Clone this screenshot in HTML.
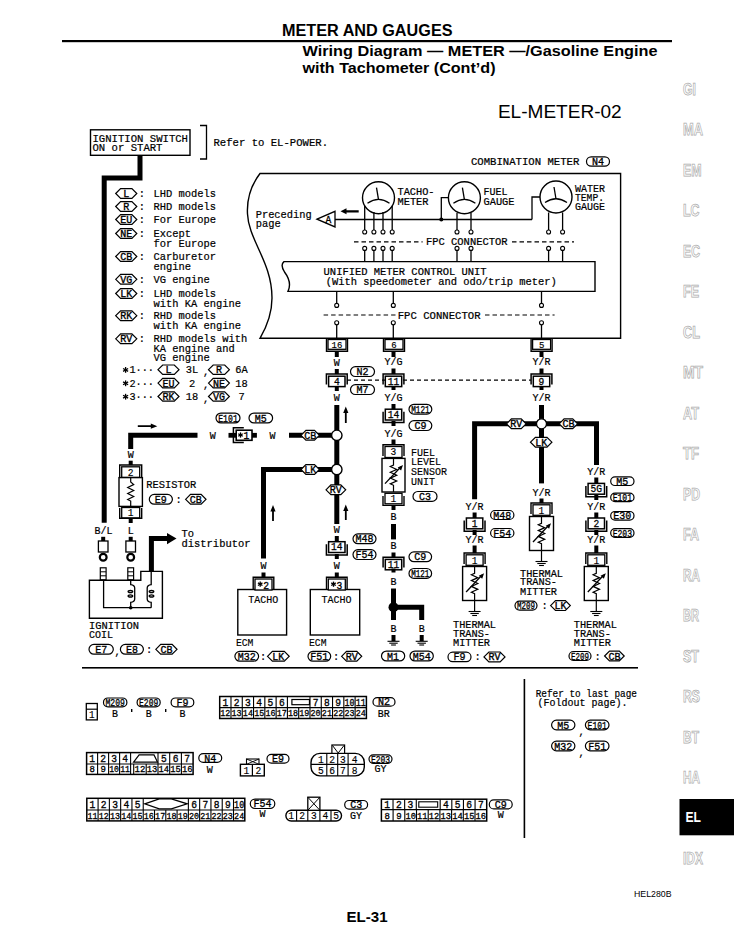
<!DOCTYPE html>
<html><head><meta charset="utf-8"><style>
html,body{margin:0;padding:0;background:#fff;width:734px;height:950px;overflow:hidden}
svg{position:absolute;left:0;top:0}
</style></head><body>
<svg width="734" height="950" viewBox="0 0 734 950">
<text x="282" y="36.3" font-size="15.6" font-family='"Liberation Sans", sans-serif' font-weight="bold" text-anchor="start" fill="#000" textLength="170.5" lengthAdjust="spacingAndGlyphs" >METER AND GAUGES</text>
<rect x="62" y="40" width="610" height="2.2" fill="#000"/>
<text x="302.5" y="56" font-size="15.2" font-family='"Liberation Sans", sans-serif' font-weight="bold" text-anchor="start" fill="#000" textLength="355" lengthAdjust="spacingAndGlyphs" >Wiring Diagram — METER —/Gasoline Engine</text>
<text x="302.5" y="72.8" font-size="15.2" font-family='"Liberation Sans", sans-serif' font-weight="bold" text-anchor="start" fill="#000" textLength="193" lengthAdjust="spacingAndGlyphs" >with Tachometer (Cont’d)</text>
<text x="683" y="94.8" font-size="15.8" font-family='"Liberation Sans", sans-serif' font-weight="bold" fill="none" stroke="#aaa" stroke-width="0.75" textLength="13" lengthAdjust="spacingAndGlyphs">GI</text>
<text x="683" y="135.3" font-size="15.8" font-family='"Liberation Sans", sans-serif' font-weight="bold" fill="none" stroke="#aaa" stroke-width="0.75" textLength="20" lengthAdjust="spacingAndGlyphs">MA</text>
<text x="683" y="175.8" font-size="15.8" font-family='"Liberation Sans", sans-serif' font-weight="bold" fill="none" stroke="#aaa" stroke-width="0.75" textLength="18.5" lengthAdjust="spacingAndGlyphs">EM</text>
<text x="683" y="216.3" font-size="15.8" font-family='"Liberation Sans", sans-serif' font-weight="bold" fill="none" stroke="#aaa" stroke-width="0.75" textLength="16.5" lengthAdjust="spacingAndGlyphs">LC</text>
<text x="683" y="256.8" font-size="15.8" font-family='"Liberation Sans", sans-serif' font-weight="bold" fill="none" stroke="#aaa" stroke-width="0.75" textLength="17" lengthAdjust="spacingAndGlyphs">EC</text>
<text x="683" y="297.3" font-size="15.8" font-family='"Liberation Sans", sans-serif' font-weight="bold" fill="none" stroke="#aaa" stroke-width="0.75" textLength="16" lengthAdjust="spacingAndGlyphs">FE</text>
<text x="683" y="337.8" font-size="15.8" font-family='"Liberation Sans", sans-serif' font-weight="bold" fill="none" stroke="#aaa" stroke-width="0.75" textLength="17" lengthAdjust="spacingAndGlyphs">CL</text>
<text x="683" y="378.3" font-size="15.8" font-family='"Liberation Sans", sans-serif' font-weight="bold" fill="none" stroke="#aaa" stroke-width="0.75" textLength="20" lengthAdjust="spacingAndGlyphs">MT</text>
<text x="683" y="418.8" font-size="15.8" font-family='"Liberation Sans", sans-serif' font-weight="bold" fill="none" stroke="#aaa" stroke-width="0.75" textLength="16" lengthAdjust="spacingAndGlyphs">AT</text>
<text x="683" y="459.3" font-size="15.8" font-family='"Liberation Sans", sans-serif' font-weight="bold" fill="none" stroke="#aaa" stroke-width="0.75" textLength="16" lengthAdjust="spacingAndGlyphs">TF</text>
<text x="683" y="499.8" font-size="15.8" font-family='"Liberation Sans", sans-serif' font-weight="bold" fill="none" stroke="#aaa" stroke-width="0.75" textLength="17" lengthAdjust="spacingAndGlyphs">PD</text>
<text x="683" y="540.3" font-size="15.8" font-family='"Liberation Sans", sans-serif' font-weight="bold" fill="none" stroke="#aaa" stroke-width="0.75" textLength="16" lengthAdjust="spacingAndGlyphs">FA</text>
<text x="683" y="580.8" font-size="15.8" font-family='"Liberation Sans", sans-serif' font-weight="bold" fill="none" stroke="#aaa" stroke-width="0.75" textLength="17" lengthAdjust="spacingAndGlyphs">RA</text>
<text x="683" y="621.3" font-size="15.8" font-family='"Liberation Sans", sans-serif' font-weight="bold" fill="none" stroke="#aaa" stroke-width="0.75" textLength="16" lengthAdjust="spacingAndGlyphs">BR</text>
<text x="683" y="661.8" font-size="15.8" font-family='"Liberation Sans", sans-serif' font-weight="bold" fill="none" stroke="#aaa" stroke-width="0.75" textLength="16" lengthAdjust="spacingAndGlyphs">ST</text>
<text x="683" y="702.3" font-size="15.8" font-family='"Liberation Sans", sans-serif' font-weight="bold" fill="none" stroke="#aaa" stroke-width="0.75" textLength="17" lengthAdjust="spacingAndGlyphs">RS</text>
<text x="683" y="742.8" font-size="15.8" font-family='"Liberation Sans", sans-serif' font-weight="bold" fill="none" stroke="#aaa" stroke-width="0.75" textLength="16" lengthAdjust="spacingAndGlyphs">BT</text>
<text x="683" y="783.3" font-size="15.8" font-family='"Liberation Sans", sans-serif' font-weight="bold" fill="none" stroke="#aaa" stroke-width="0.75" textLength="17" lengthAdjust="spacingAndGlyphs">HA</text>
<rect x="679.5" y="799" width="54.5" height="36.3" fill="#000"/>
<text x="685.5" y="822" font-size="13.8" font-family='"Liberation Sans", sans-serif' font-weight="bold" text-anchor="start" fill="#fff" textLength="15.5" lengthAdjust="spacingAndGlyphs" >EL</text>
<text x="683" y="864.3" font-size="15.8" font-family='"Liberation Sans", sans-serif' font-weight="bold" fill="none" stroke="#aaa" stroke-width="0.75" textLength="20" lengthAdjust="spacingAndGlyphs">IDX</text>
<text x="634" y="897.2" font-size="8.9" font-family='"Liberation Sans", sans-serif' font-weight="normal" text-anchor="start" fill="#000" textLength="37.5" lengthAdjust="spacingAndGlyphs" >HEL280B</text>
<text x="346.5" y="922.2" font-size="15.2" font-family='"Liberation Sans", sans-serif' font-weight="bold" text-anchor="start" fill="#000" textLength="41" lengthAdjust="spacingAndGlyphs" >EL-31</text>
<rect x="82" y="667" width="556" height="1.6" fill="#000"/>
<rect x="523.6" y="679" width="1.6" height="159" fill="#000"/>
<text x="497.9" y="117.9" font-size="18.3" font-family='"Liberation Sans", sans-serif' font-weight="normal" text-anchor="start" fill="#000" textLength="123.8" lengthAdjust="spacingAndGlyphs" >EL-METER-02</text>
<rect x="90.5" y="129.8" width="99.5" height="25.5" stroke="#000" stroke-width="1.4" fill="#fff"/>
<text transform="translate(92.5,141.5) scale(1,1.1)" x="0" y="0" font-size="10.4" font-family='"Liberation Mono", monospace' font-weight="normal" text-anchor="start" fill="#000" textLength="95.5" lengthAdjust="spacingAndGlyphs"  stroke="#000" stroke-width="0.2">IGNITION SWITCH</text>
<text transform="translate(92.5,150.8) scale(1,1.1)" x="0" y="0" font-size="10.4" font-family='"Liberation Mono", monospace' font-weight="normal" text-anchor="start" fill="#000" textLength="70" lengthAdjust="spacingAndGlyphs"  stroke="#000" stroke-width="0.2">ON or START</text>
<path d="M200,125.5 L206.5,125.5 L206.5,159 L200,159" stroke="#000" stroke-width="1.3" fill="none" />
<text transform="translate(213.5,146.2) scale(1,1.1)" x="0" y="0" font-size="10.4" font-family='"Liberation Mono", monospace' font-weight="normal" text-anchor="start" fill="#000" textLength="114.5" lengthAdjust="spacingAndGlyphs"  stroke="#000" stroke-width="0.2">Refer to EL-POWER.</text>
<path d="M140,155.3 L140,177.9 L104.2,177.9 L104.2,522.7" stroke="#000" stroke-width="5" fill="none" stroke-linejoin="miter" stroke-linecap="butt"/>
<path d="M115.7,193.5 L120.60000000000001,188.6 L131.9,188.6 L136.8,193.5 L131.9,198.4 L120.60000000000001,198.4 Z" stroke="#000" stroke-width="1.2" fill="#fff"/>
<text transform="translate(126.25,197.0) scale(1,1.1)" x="0" y="0" font-size="10" font-family='"Liberation Mono", monospace' font-weight="normal" text-anchor="middle" fill="#000"  stroke="#000" stroke-width="0.35">L</text>
<text transform="translate(138.8,197.0) scale(1,1.1)" x="0" y="0" font-size="10.4" font-family='"Liberation Mono", monospace' font-weight="normal" text-anchor="start" fill="#000"  stroke="#000" stroke-width="0.2">:</text>
<text transform="translate(153.4,197.0) scale(1,1.1)" x="0" y="0" font-size="10.4" font-family='"Liberation Mono", monospace' font-weight="normal" text-anchor="start" fill="#000" textLength="62.5" lengthAdjust="spacingAndGlyphs"  stroke="#000" stroke-width="0.2">LHD models</text>
<path d="M115.7,206.5 L120.60000000000001,201.6 L131.9,201.6 L136.8,206.5 L131.9,211.4 L120.60000000000001,211.4 Z" stroke="#000" stroke-width="1.2" fill="#fff"/>
<text transform="translate(126.25,210.0) scale(1,1.1)" x="0" y="0" font-size="10" font-family='"Liberation Mono", monospace' font-weight="normal" text-anchor="middle" fill="#000"  stroke="#000" stroke-width="0.35">R</text>
<text transform="translate(138.8,210.0) scale(1,1.1)" x="0" y="0" font-size="10.4" font-family='"Liberation Mono", monospace' font-weight="normal" text-anchor="start" fill="#000"  stroke="#000" stroke-width="0.2">:</text>
<text transform="translate(153.4,210.0) scale(1,1.1)" x="0" y="0" font-size="10.4" font-family='"Liberation Mono", monospace' font-weight="normal" text-anchor="start" fill="#000" textLength="62.5" lengthAdjust="spacingAndGlyphs"  stroke="#000" stroke-width="0.2">RHD models</text>
<path d="M115.7,219.5 L120.60000000000001,214.6 L131.9,214.6 L136.8,219.5 L131.9,224.4 L120.60000000000001,224.4 Z" stroke="#000" stroke-width="1.2" fill="#fff"/>
<text transform="translate(126.25,223.0) scale(1,1.1)" x="0" y="0" font-size="10" font-family='"Liberation Mono", monospace' font-weight="normal" text-anchor="middle" fill="#000"  stroke="#000" stroke-width="0.35">EU</text>
<text transform="translate(138.8,223.0) scale(1,1.1)" x="0" y="0" font-size="10.4" font-family='"Liberation Mono", monospace' font-weight="normal" text-anchor="start" fill="#000"  stroke="#000" stroke-width="0.2">:</text>
<text transform="translate(153.4,223.0) scale(1,1.1)" x="0" y="0" font-size="10.4" font-family='"Liberation Mono", monospace' font-weight="normal" text-anchor="start" fill="#000" textLength="62.5" lengthAdjust="spacingAndGlyphs"  stroke="#000" stroke-width="0.2">For Europe</text>
<path d="M115.7,233.5 L120.60000000000001,228.6 L131.9,228.6 L136.8,233.5 L131.9,238.4 L120.60000000000001,238.4 Z" stroke="#000" stroke-width="1.2" fill="#fff"/>
<text transform="translate(126.25,237.0) scale(1,1.1)" x="0" y="0" font-size="10" font-family='"Liberation Mono", monospace' font-weight="normal" text-anchor="middle" fill="#000"  stroke="#000" stroke-width="0.35">NE</text>
<text transform="translate(138.8,237.0) scale(1,1.1)" x="0" y="0" font-size="10.4" font-family='"Liberation Mono", monospace' font-weight="normal" text-anchor="start" fill="#000"  stroke="#000" stroke-width="0.2">:</text>
<text transform="translate(153.4,237.0) scale(1,1.1)" x="0" y="0" font-size="10.4" font-family='"Liberation Mono", monospace' font-weight="normal" text-anchor="start" fill="#000" textLength="37.5" lengthAdjust="spacingAndGlyphs"  stroke="#000" stroke-width="0.2">Except</text>
<text transform="translate(153.4,246.5) scale(1,1.1)" x="0" y="0" font-size="10.4" font-family='"Liberation Mono", monospace' font-weight="normal" text-anchor="start" fill="#000" textLength="62.5" lengthAdjust="spacingAndGlyphs"  stroke="#000" stroke-width="0.2">for Europe</text>
<path d="M115.7,256.5 L120.60000000000001,251.6 L131.9,251.6 L136.8,256.5 L131.9,261.4 L120.60000000000001,261.4 Z" stroke="#000" stroke-width="1.2" fill="#fff"/>
<text transform="translate(126.25,260.0) scale(1,1.1)" x="0" y="0" font-size="10" font-family='"Liberation Mono", monospace' font-weight="normal" text-anchor="middle" fill="#000"  stroke="#000" stroke-width="0.35">CB</text>
<text transform="translate(138.8,260.0) scale(1,1.1)" x="0" y="0" font-size="10.4" font-family='"Liberation Mono", monospace' font-weight="normal" text-anchor="start" fill="#000"  stroke="#000" stroke-width="0.2">:</text>
<text transform="translate(153.4,260.0) scale(1,1.1)" x="0" y="0" font-size="10.4" font-family='"Liberation Mono", monospace' font-weight="normal" text-anchor="start" fill="#000" textLength="62.5" lengthAdjust="spacingAndGlyphs"  stroke="#000" stroke-width="0.2">Carburetor</text>
<text transform="translate(153.4,269.5) scale(1,1.1)" x="0" y="0" font-size="10.4" font-family='"Liberation Mono", monospace' font-weight="normal" text-anchor="start" fill="#000" textLength="37.5" lengthAdjust="spacingAndGlyphs"  stroke="#000" stroke-width="0.2">engine</text>
<path d="M115.7,279.3 L120.60000000000001,274.40000000000003 L131.9,274.40000000000003 L136.8,279.3 L131.9,284.2 L120.60000000000001,284.2 Z" stroke="#000" stroke-width="1.2" fill="#fff"/>
<text transform="translate(126.25,282.8) scale(1,1.1)" x="0" y="0" font-size="10" font-family='"Liberation Mono", monospace' font-weight="normal" text-anchor="middle" fill="#000"  stroke="#000" stroke-width="0.35">VG</text>
<text transform="translate(138.8,282.8) scale(1,1.1)" x="0" y="0" font-size="10.4" font-family='"Liberation Mono", monospace' font-weight="normal" text-anchor="start" fill="#000"  stroke="#000" stroke-width="0.2">:</text>
<text transform="translate(153.4,282.8) scale(1,1.1)" x="0" y="0" font-size="10.4" font-family='"Liberation Mono", monospace' font-weight="normal" text-anchor="start" fill="#000" textLength="56.25" lengthAdjust="spacingAndGlyphs"  stroke="#000" stroke-width="0.2">VG engine</text>
<path d="M115.7,293.5 L120.60000000000001,288.6 L131.9,288.6 L136.8,293.5 L131.9,298.4 L120.60000000000001,298.4 Z" stroke="#000" stroke-width="1.2" fill="#fff"/>
<text transform="translate(126.25,297.0) scale(1,1.1)" x="0" y="0" font-size="10" font-family='"Liberation Mono", monospace' font-weight="normal" text-anchor="middle" fill="#000"  stroke="#000" stroke-width="0.35">LK</text>
<text transform="translate(138.8,297.0) scale(1,1.1)" x="0" y="0" font-size="10.4" font-family='"Liberation Mono", monospace' font-weight="normal" text-anchor="start" fill="#000"  stroke="#000" stroke-width="0.2">:</text>
<text transform="translate(153.4,297.0) scale(1,1.1)" x="0" y="0" font-size="10.4" font-family='"Liberation Mono", monospace' font-weight="normal" text-anchor="start" fill="#000" textLength="62.5" lengthAdjust="spacingAndGlyphs"  stroke="#000" stroke-width="0.2">LHD models</text>
<text transform="translate(153.4,306.5) scale(1,1.1)" x="0" y="0" font-size="10.4" font-family='"Liberation Mono", monospace' font-weight="normal" text-anchor="start" fill="#000" textLength="87.5" lengthAdjust="spacingAndGlyphs"  stroke="#000" stroke-width="0.2">with KA engine</text>
<path d="M115.7,315.7 L120.60000000000001,310.8 L131.9,310.8 L136.8,315.7 L131.9,320.59999999999997 L120.60000000000001,320.59999999999997 Z" stroke="#000" stroke-width="1.2" fill="#fff"/>
<text transform="translate(126.25,319.2) scale(1,1.1)" x="0" y="0" font-size="10" font-family='"Liberation Mono", monospace' font-weight="normal" text-anchor="middle" fill="#000"  stroke="#000" stroke-width="0.35">RK</text>
<text transform="translate(138.8,319.2) scale(1,1.1)" x="0" y="0" font-size="10.4" font-family='"Liberation Mono", monospace' font-weight="normal" text-anchor="start" fill="#000"  stroke="#000" stroke-width="0.2">:</text>
<text transform="translate(153.4,319.2) scale(1,1.1)" x="0" y="0" font-size="10.4" font-family='"Liberation Mono", monospace' font-weight="normal" text-anchor="start" fill="#000" textLength="62.5" lengthAdjust="spacingAndGlyphs"  stroke="#000" stroke-width="0.2">RHD models</text>
<text transform="translate(153.4,328.7) scale(1,1.1)" x="0" y="0" font-size="10.4" font-family='"Liberation Mono", monospace' font-weight="normal" text-anchor="start" fill="#000" textLength="87.5" lengthAdjust="spacingAndGlyphs"  stroke="#000" stroke-width="0.2">with KA engine</text>
<path d="M115.7,338.8 L120.60000000000001,333.90000000000003 L131.9,333.90000000000003 L136.8,338.8 L131.9,343.7 L120.60000000000001,343.7 Z" stroke="#000" stroke-width="1.2" fill="#fff"/>
<text transform="translate(126.25,342.3) scale(1,1.1)" x="0" y="0" font-size="10" font-family='"Liberation Mono", monospace' font-weight="normal" text-anchor="middle" fill="#000"  stroke="#000" stroke-width="0.35">RV</text>
<text transform="translate(138.8,342.3) scale(1,1.1)" x="0" y="0" font-size="10.4" font-family='"Liberation Mono", monospace' font-weight="normal" text-anchor="start" fill="#000"  stroke="#000" stroke-width="0.2">:</text>
<text transform="translate(153.4,342.3) scale(1,1.1)" x="0" y="0" font-size="10.4" font-family='"Liberation Mono", monospace' font-weight="normal" text-anchor="start" fill="#000" textLength="93.75" lengthAdjust="spacingAndGlyphs"  stroke="#000" stroke-width="0.2">RHD models with</text>
<text transform="translate(153.4,351.8) scale(1,1.1)" x="0" y="0" font-size="10.4" font-family='"Liberation Mono", monospace' font-weight="normal" text-anchor="start" fill="#000" textLength="81.25" lengthAdjust="spacingAndGlyphs"  stroke="#000" stroke-width="0.2">KA engine and</text>
<text transform="translate(153.4,361.3) scale(1,1.1)" x="0" y="0" font-size="10.4" font-family='"Liberation Mono", monospace' font-weight="normal" text-anchor="start" fill="#000" textLength="56.25" lengthAdjust="spacingAndGlyphs"  stroke="#000" stroke-width="0.2">VG engine</text>
<line x1="125.6" y1="367.0" x2="125.6" y2="372.8" stroke="#000" stroke-width="1.3" />
<line x1="123.09" y1="368.45" x2="128.11" y2="371.35" stroke="#000" stroke-width="1.3" />
<line x1="128.11" y1="368.45" x2="123.09" y2="371.35" stroke="#000" stroke-width="1.3" />
<text transform="translate(129.5,373.2) scale(1,1.1)" x="0" y="0" font-size="10.4" font-family='"Liberation Mono", monospace' font-weight="normal" text-anchor="start" fill="#000" textLength="24.5" lengthAdjust="spacingAndGlyphs"  stroke="#000" stroke-width="0.2">1···</text>
<path d="M158,369.7 L162.7,365.0 L174.3,365.0 L179,369.7 L174.3,374.4 L162.7,374.4 Z" stroke="#000" stroke-width="1.2" fill="#fff"/>
<text transform="translate(168.5,373.2) scale(1,1.1)" x="0" y="0" font-size="10" font-family='"Liberation Mono", monospace' font-weight="normal" text-anchor="middle" fill="#000"  stroke="#000" stroke-width="0.35">L</text>
<text transform="translate(192,373.2) scale(1,1.1)" x="0" y="0" font-size="10.4" font-family='"Liberation Mono", monospace' font-weight="normal" text-anchor="middle" fill="#000"  stroke="#000" stroke-width="0.2">3L</text>
<text transform="translate(203,374.7) scale(1,1.1)" x="0" y="0" font-size="10.4" font-family='"Liberation Mono", monospace' font-weight="normal" text-anchor="start" fill="#000"  stroke="#000" stroke-width="0.2">,</text>
<path d="M208.5,369.7 L213.2,365.0 L224.70000000000002,365.0 L229.4,369.7 L224.70000000000002,374.4 L213.2,374.4 Z" stroke="#000" stroke-width="1.2" fill="#fff"/>
<text transform="translate(218.95,373.2) scale(1,1.1)" x="0" y="0" font-size="10" font-family='"Liberation Mono", monospace' font-weight="normal" text-anchor="middle" fill="#000"  stroke="#000" stroke-width="0.35">R</text>
<text transform="translate(241.5,373.2) scale(1,1.1)" x="0" y="0" font-size="10.4" font-family='"Liberation Mono", monospace' font-weight="normal" text-anchor="middle" fill="#000"  stroke="#000" stroke-width="0.2">6A</text>
<line x1="125.6" y1="380.4" x2="125.6" y2="386.2" stroke="#000" stroke-width="1.3" />
<line x1="123.09" y1="381.85" x2="128.11" y2="384.75" stroke="#000" stroke-width="1.3" />
<line x1="128.11" y1="381.85" x2="123.09" y2="384.75" stroke="#000" stroke-width="1.3" />
<text transform="translate(129.5,386.6) scale(1,1.1)" x="0" y="0" font-size="10.4" font-family='"Liberation Mono", monospace' font-weight="normal" text-anchor="start" fill="#000" textLength="24.5" lengthAdjust="spacingAndGlyphs"  stroke="#000" stroke-width="0.2">2···</text>
<path d="M158,383.1 L162.7,378.40000000000003 L174.3,378.40000000000003 L179,383.1 L174.3,387.8 L162.7,387.8 Z" stroke="#000" stroke-width="1.2" fill="#fff"/>
<text transform="translate(168.5,386.6) scale(1,1.1)" x="0" y="0" font-size="10" font-family='"Liberation Mono", monospace' font-weight="normal" text-anchor="middle" fill="#000"  stroke="#000" stroke-width="0.35">EU</text>
<text transform="translate(192,386.6) scale(1,1.1)" x="0" y="0" font-size="10.4" font-family='"Liberation Mono", monospace' font-weight="normal" text-anchor="middle" fill="#000"  stroke="#000" stroke-width="0.2">2</text>
<text transform="translate(203,388.1) scale(1,1.1)" x="0" y="0" font-size="10.4" font-family='"Liberation Mono", monospace' font-weight="normal" text-anchor="start" fill="#000"  stroke="#000" stroke-width="0.2">,</text>
<path d="M208.5,383.1 L213.2,378.40000000000003 L224.70000000000002,378.40000000000003 L229.4,383.1 L224.70000000000002,387.8 L213.2,387.8 Z" stroke="#000" stroke-width="1.2" fill="#fff"/>
<text transform="translate(218.95,386.6) scale(1,1.1)" x="0" y="0" font-size="10" font-family='"Liberation Mono", monospace' font-weight="normal" text-anchor="middle" fill="#000"  stroke="#000" stroke-width="0.35">NE</text>
<text transform="translate(241.5,386.6) scale(1,1.1)" x="0" y="0" font-size="10.4" font-family='"Liberation Mono", monospace' font-weight="normal" text-anchor="middle" fill="#000"  stroke="#000" stroke-width="0.2">18</text>
<line x1="125.6" y1="393.8" x2="125.6" y2="399.6" stroke="#000" stroke-width="1.3" />
<line x1="123.09" y1="395.25" x2="128.11" y2="398.15" stroke="#000" stroke-width="1.3" />
<line x1="128.11" y1="395.25" x2="123.09" y2="398.15" stroke="#000" stroke-width="1.3" />
<text transform="translate(129.5,400.0) scale(1,1.1)" x="0" y="0" font-size="10.4" font-family='"Liberation Mono", monospace' font-weight="normal" text-anchor="start" fill="#000" textLength="24.5" lengthAdjust="spacingAndGlyphs"  stroke="#000" stroke-width="0.2">3···</text>
<path d="M158,396.5 L162.7,391.8 L174.3,391.8 L179,396.5 L174.3,401.2 L162.7,401.2 Z" stroke="#000" stroke-width="1.2" fill="#fff"/>
<text transform="translate(168.5,400.0) scale(1,1.1)" x="0" y="0" font-size="10" font-family='"Liberation Mono", monospace' font-weight="normal" text-anchor="middle" fill="#000"  stroke="#000" stroke-width="0.35">RK</text>
<text transform="translate(192,400.0) scale(1,1.1)" x="0" y="0" font-size="10.4" font-family='"Liberation Mono", monospace' font-weight="normal" text-anchor="middle" fill="#000"  stroke="#000" stroke-width="0.2">18</text>
<text transform="translate(203,401.5) scale(1,1.1)" x="0" y="0" font-size="10.4" font-family='"Liberation Mono", monospace' font-weight="normal" text-anchor="start" fill="#000"  stroke="#000" stroke-width="0.2">,</text>
<path d="M208.5,396.5 L213.2,391.8 L224.70000000000002,391.8 L229.4,396.5 L224.70000000000002,401.2 L213.2,401.2 Z" stroke="#000" stroke-width="1.2" fill="#fff"/>
<text transform="translate(218.95,400.0) scale(1,1.1)" x="0" y="0" font-size="10" font-family='"Liberation Mono", monospace' font-weight="normal" text-anchor="middle" fill="#000"  stroke="#000" stroke-width="0.35">VG</text>
<text transform="translate(241.5,400.0) scale(1,1.1)" x="0" y="0" font-size="10.4" font-family='"Liberation Mono", monospace' font-weight="normal" text-anchor="middle" fill="#000"  stroke="#000" stroke-width="0.2">7</text>
<text transform="translate(470.9,165) scale(1,1.1)" x="0" y="0" font-size="9.6" font-family='"Liberation Mono", monospace' font-weight="normal" text-anchor="start" fill="#000" textLength="108.5" lengthAdjust="spacingAndGlyphs"  stroke="#000" stroke-width="0.2">COMBINATION METER</text>
<rect x="586.5" y="156.8" width="23.0" height="9.4" rx="4.7" ry="4.7" stroke="#000" stroke-width="1.2" fill="#fff"/>
<text transform="translate(598.0,165.0) scale(1,1.1)" x="0" y="0" font-size="10" font-family='"Liberation Mono", monospace' font-weight="normal" text-anchor="middle" fill="#000"  stroke="#000" stroke-width="0.3">N4</text>
<path d="M620.6,173.5 L260,173.5 C252,184 246.5,196 247.5,214 C248.5,240 272,262 272,298 C272,314 266,328 260,338.3 L620.6,338.3 Z" stroke="#000" stroke-width="1.4" fill="none" />
<circle cx="378.5" cy="197.7" r="16" stroke="#000" stroke-width="1.4" fill="#fff"/>
<path d="M367.5,203.2 Q378.5,195.7 389.5,203.2" stroke="#000" stroke-width="1.3" fill="none" />
<line x1="378.5" y1="199.7" x2="376.5" y2="187.7" stroke="#000" stroke-width="1.3" />
<circle cx="464.4" cy="197.7" r="16" stroke="#000" stroke-width="1.4" fill="#fff"/>
<path d="M453.4,203.2 Q464.4,195.7 475.4,203.2" stroke="#000" stroke-width="1.3" fill="none" />
<line x1="464.4" y1="199.7" x2="462.4" y2="187.7" stroke="#000" stroke-width="1.3" />
<circle cx="556" cy="197" r="16" stroke="#000" stroke-width="1.4" fill="#fff"/>
<path d="M545,202.5 Q556,195 567,202.5" stroke="#000" stroke-width="1.3" fill="none" />
<line x1="556" y1="199" x2="554" y2="187" stroke="#000" stroke-width="1.3" />
<text transform="translate(397.5,195) scale(1,1.1)" x="0" y="0" font-size="9.6" font-family='"Liberation Mono", monospace' font-weight="normal" text-anchor="start" fill="#000" textLength="37" lengthAdjust="spacingAndGlyphs"  stroke="#000" stroke-width="0.2">TACHO-</text>
<text transform="translate(397.5,205) scale(1,1.1)" x="0" y="0" font-size="9.6" font-family='"Liberation Mono", monospace' font-weight="normal" text-anchor="start" fill="#000" textLength="31" lengthAdjust="spacingAndGlyphs"  stroke="#000" stroke-width="0.2">METER</text>
<text transform="translate(483.5,195) scale(1,1.1)" x="0" y="0" font-size="9.6" font-family='"Liberation Mono", monospace' font-weight="normal" text-anchor="start" fill="#000" textLength="24" lengthAdjust="spacingAndGlyphs"  stroke="#000" stroke-width="0.2">FUEL</text>
<text transform="translate(483.5,205) scale(1,1.1)" x="0" y="0" font-size="9.6" font-family='"Liberation Mono", monospace' font-weight="normal" text-anchor="start" fill="#000" textLength="31" lengthAdjust="spacingAndGlyphs"  stroke="#000" stroke-width="0.2">GAUGE</text>
<text transform="translate(575,191.8) scale(1,1.1)" x="0" y="0" font-size="10.2" font-family='"Liberation Mono", monospace' font-weight="normal" text-anchor="start" fill="#000" textLength="30" lengthAdjust="spacingAndGlyphs"  stroke="#000" stroke-width="0.2">WATER</text>
<text transform="translate(575,200.6) scale(1,1.1)" x="0" y="0" font-size="10.2" font-family='"Liberation Mono", monospace' font-weight="normal" text-anchor="start" fill="#000" textLength="29" lengthAdjust="spacingAndGlyphs"  stroke="#000" stroke-width="0.2">TEMP.</text>
<text transform="translate(575,209.6) scale(1,1.1)" x="0" y="0" font-size="10.2" font-family='"Liberation Mono", monospace' font-weight="normal" text-anchor="start" fill="#000" textLength="30" lengthAdjust="spacingAndGlyphs"  stroke="#000" stroke-width="0.2">GAUGE</text>
<path d="M317,219.2 L335,211.3 L335,226.9 Z" stroke="#000" stroke-width="1.3" fill="#fff"/>
<text transform="translate(328.5,223.2) scale(1,1.1)" x="0" y="0" font-size="9.6" font-family='"Liberation Mono", monospace' font-weight="normal" text-anchor="middle" fill="#000"  stroke="#000" stroke-width="0.3">A</text>
<line x1="335" y1="219.5" x2="532" y2="219.5" stroke="#000" stroke-width="1.3" />
<path d="M441.3,219.5 L441.3,197.7 L448.2,197.7" stroke="#000" stroke-width="1.3" fill="none" />
<path d="M532,219.5 L532,197 L540,197" stroke="#000" stroke-width="1.3" fill="none" />
<circle cx="441.3" cy="219.5" r="2.0" stroke="#000" stroke-width="0" fill="#000"/>
<path d="M340.5,211.3 L346.5,208.3 L346.5,210.2 L358.7,210.2 L358.7,212.4 L346.5,212.4 L346.5,214.3 Z" fill="#000"/>
<text transform="translate(255.7,217.9) scale(1,1.1)" x="0" y="0" font-size="10.4" font-family='"Liberation Mono", monospace' font-weight="normal" text-anchor="start" fill="#000" textLength="56" lengthAdjust="spacingAndGlyphs"  stroke="#000" stroke-width="0.2">Preceding</text>
<text transform="translate(255.7,226.5) scale(1,1.1)" x="0" y="0" font-size="10.4" font-family='"Liberation Mono", monospace' font-weight="normal" text-anchor="start" fill="#000" textLength="25" lengthAdjust="spacingAndGlyphs"  stroke="#000" stroke-width="0.2">page</text>
<line x1="364.7" y1="205.8" x2="364.7" y2="230" stroke="#000" stroke-width="1.3" />
<circle cx="364.7" cy="232" r="2.0" stroke="#000" stroke-width="1.1" fill="#fff"/>
<circle cx="364.7" cy="248.4" r="2.0" stroke="#000" stroke-width="1.1" fill="#fff"/>
<line x1="364.7" y1="250.4" x2="364.7" y2="261.5" stroke="#000" stroke-width="1.3" />
<line x1="373.9" y1="212" x2="373.9" y2="230" stroke="#000" stroke-width="1.3" />
<circle cx="373.9" cy="232" r="2.0" stroke="#000" stroke-width="1.1" fill="#fff"/>
<circle cx="373.9" cy="248.4" r="2.0" stroke="#000" stroke-width="1.1" fill="#fff"/>
<line x1="373.9" y1="250.4" x2="373.9" y2="261.5" stroke="#000" stroke-width="1.3" />
<line x1="383.0" y1="212" x2="383.0" y2="230" stroke="#000" stroke-width="1.3" />
<circle cx="383.0" cy="232" r="2.0" stroke="#000" stroke-width="1.1" fill="#fff"/>
<circle cx="383.0" cy="248.4" r="2.0" stroke="#000" stroke-width="1.1" fill="#fff"/>
<line x1="383.0" y1="250.4" x2="383.0" y2="261.5" stroke="#000" stroke-width="1.3" />
<line x1="392.2" y1="205.8" x2="392.2" y2="230" stroke="#000" stroke-width="1.3" />
<circle cx="392.2" cy="232" r="2.0" stroke="#000" stroke-width="1.1" fill="#fff"/>
<circle cx="392.2" cy="248.4" r="2.0" stroke="#000" stroke-width="1.1" fill="#fff"/>
<line x1="392.2" y1="250.4" x2="392.2" y2="261.5" stroke="#000" stroke-width="1.3" />
<line x1="457.0" y1="213" x2="457.0" y2="230" stroke="#000" stroke-width="1.3" />
<circle cx="457.0" cy="232" r="2.0" stroke="#000" stroke-width="1.1" fill="#fff"/>
<circle cx="457.0" cy="248.4" r="2.0" stroke="#000" stroke-width="1.1" fill="#fff"/>
<line x1="457.0" y1="250.4" x2="457.0" y2="261.5" stroke="#000" stroke-width="1.3" />
<line x1="471.0" y1="213" x2="471.0" y2="230" stroke="#000" stroke-width="1.3" />
<circle cx="471.0" cy="232" r="2.0" stroke="#000" stroke-width="1.1" fill="#fff"/>
<circle cx="471.0" cy="248.4" r="2.0" stroke="#000" stroke-width="1.1" fill="#fff"/>
<line x1="471.0" y1="250.4" x2="471.0" y2="261.5" stroke="#000" stroke-width="1.3" />
<line x1="548.6" y1="212.5" x2="548.6" y2="230" stroke="#000" stroke-width="1.3" />
<circle cx="548.6" cy="232" r="2.0" stroke="#000" stroke-width="1.1" fill="#fff"/>
<circle cx="548.6" cy="248.4" r="2.0" stroke="#000" stroke-width="1.1" fill="#fff"/>
<line x1="548.6" y1="250.4" x2="548.6" y2="261.5" stroke="#000" stroke-width="1.3" />
<line x1="562.6" y1="212.5" x2="562.6" y2="230" stroke="#000" stroke-width="1.3" />
<circle cx="562.6" cy="232" r="2.0" stroke="#000" stroke-width="1.1" fill="#fff"/>
<circle cx="562.6" cy="248.4" r="2.0" stroke="#000" stroke-width="1.1" fill="#fff"/>
<line x1="562.6" y1="250.4" x2="562.6" y2="261.5" stroke="#000" stroke-width="1.3" />
<line x1="354" y1="241.8" x2="422.6" y2="241.8" stroke="#000" stroke-width="1.2" stroke-dasharray="4.5,3"/>
<text transform="translate(425.9,245.3) scale(1,1.1)" x="0" y="0" font-size="9.6" font-family='"Liberation Mono", monospace' font-weight="normal" text-anchor="start" fill="#000" textLength="81.7" lengthAdjust="spacingAndGlyphs"  stroke="#000" stroke-width="0.2">FPC CONNECTOR</text>
<line x1="512" y1="241.8" x2="574" y2="241.8" stroke="#000" stroke-width="1.2" stroke-dasharray="4.5,3"/>
<path d="M595,261.6 L284,261.6 C281,264 282,268 284.5,272 C289,278 291,285 288,291.4 L595,291.4 Z" stroke="#000" stroke-width="1.4" fill="#fff" />
<text transform="translate(323.6,274.9) scale(1,1.1)" x="0" y="0" font-size="9.6" font-family='"Liberation Mono", monospace' font-weight="normal" text-anchor="start" fill="#000" textLength="163" lengthAdjust="spacingAndGlyphs"  stroke="#000" stroke-width="0.2">UNIFIED METER CONTROL UNIT</text>
<text transform="translate(325.8,284.9) scale(1,1.1)" x="0" y="0" font-size="9.6" font-family='"Liberation Mono", monospace' font-weight="normal" text-anchor="start" fill="#000" textLength="231" lengthAdjust="spacingAndGlyphs"  stroke="#000" stroke-width="0.2">(With speedometer and odo/trip meter)</text>
<line x1="336.7" y1="291.4" x2="336.7" y2="303.4" stroke="#000" stroke-width="1.3" />
<circle cx="336.7" cy="305.4" r="2.0" stroke="#000" stroke-width="1.1" fill="#fff"/>
<circle cx="336.7" cy="322.8" r="2.0" stroke="#000" stroke-width="1.1" fill="#fff"/>
<line x1="336.7" y1="324.8" x2="336.7" y2="338.3" stroke="#000" stroke-width="1.3" />
<line x1="393.3" y1="291.4" x2="393.3" y2="303.4" stroke="#000" stroke-width="1.3" />
<circle cx="393.3" cy="305.4" r="2.0" stroke="#000" stroke-width="1.1" fill="#fff"/>
<circle cx="393.3" cy="322.8" r="2.0" stroke="#000" stroke-width="1.1" fill="#fff"/>
<line x1="393.3" y1="324.8" x2="393.3" y2="338.3" stroke="#000" stroke-width="1.3" />
<line x1="541.5" y1="291.4" x2="541.5" y2="303.4" stroke="#000" stroke-width="1.3" />
<circle cx="541.5" cy="305.4" r="2.0" stroke="#000" stroke-width="1.1" fill="#fff"/>
<circle cx="541.5" cy="322.8" r="2.0" stroke="#000" stroke-width="1.1" fill="#fff"/>
<line x1="541.5" y1="324.8" x2="541.5" y2="338.3" stroke="#000" stroke-width="1.3" />
<line x1="323.6" y1="315" x2="395.5" y2="315" stroke="#000" stroke-width="1.2" stroke-dasharray="4.5,3"/>
<text transform="translate(397.7,318.5) scale(1,1.1)" x="0" y="0" font-size="9.6" font-family='"Liberation Mono", monospace' font-weight="normal" text-anchor="start" fill="#000" textLength="82.8" lengthAdjust="spacingAndGlyphs"  stroke="#000" stroke-width="0.2">FPC CONNECTOR</text>
<line x1="485" y1="315" x2="554.6" y2="315" stroke="#000" stroke-width="1.2" stroke-dasharray="4.5,3"/>
<path d="M326.5,338.3 L326.5,351.3 L347.5,351.3 L347.5,338.3" stroke="#000" stroke-width="1.4" fill="none" />
<rect x="328.0" y="339.5" width="18" height="9.8" stroke="#000" stroke-width="1.3" fill="#fff"/>
<text transform="translate(337.0,347.7) scale(1,1.1)" x="0" y="0" font-size="9" font-family='"Liberation Mono", monospace' font-weight="normal" text-anchor="middle" fill="#000"  stroke="#000" stroke-width="0.15">16</text>
<path d="M383.5,338.3 L383.5,351.3 L404.5,351.3 L404.5,338.3" stroke="#000" stroke-width="1.4" fill="none" />
<rect x="385.0" y="339.5" width="18" height="9.8" stroke="#000" stroke-width="1.3" fill="#fff"/>
<text transform="translate(394.0,347.7) scale(1,1.1)" x="0" y="0" font-size="9" font-family='"Liberation Mono", monospace' font-weight="normal" text-anchor="middle" fill="#000"  stroke="#000" stroke-width="0.15">6</text>
<path d="M531.1,338.3 L531.1,351.3 L552.1,351.3 L552.1,338.3" stroke="#000" stroke-width="1.4" fill="none" />
<rect x="532.6" y="339.5" width="18" height="9.8" stroke="#000" stroke-width="1.3" fill="#fff"/>
<text transform="translate(541.6,347.7) scale(1,1.1)" x="0" y="0" font-size="9" font-family='"Liberation Mono", monospace' font-weight="normal" text-anchor="middle" fill="#000"  stroke="#000" stroke-width="0.15">5</text>
<line x1="336.8" y1="351.3" x2="336.8" y2="357" stroke="#000" stroke-width="4" />
<text transform="translate(336.8,366) scale(1,1.1)" x="0" y="0" font-size="10" font-family='"Liberation Mono", monospace' font-weight="normal" text-anchor="middle" fill="#000"  stroke="#000" stroke-width="0.2">W</text>
<line x1="336.8" y1="369" x2="336.8" y2="374" stroke="#000" stroke-width="4" />
<path d="M326.40000000000003,384.4 L326.40000000000003,374 L347.2,374 L347.2,384.4" stroke="#000" stroke-width="1.5" fill="none" />
<rect x="328.6" y="376.2" width="16.4" height="10.4" stroke="#000" stroke-width="1.5" fill="#fff"/>
<text transform="translate(336.8,384.7) scale(1,1.1)" x="0" y="0" font-size="9.6" font-family='"Liberation Mono", monospace' font-weight="normal" text-anchor="middle" fill="#000"  stroke="#000" stroke-width="0.25">4</text>
<line x1="347" y1="380.2" x2="531" y2="380.2" stroke="#000" stroke-width="1.2" stroke-dasharray="4,3"/>
<rect x="350.5" y="366.70000000000005" width="24.0" height="9.8" rx="4.9" ry="4.9" stroke="#000" stroke-width="1.2" fill="#fff"/>
<text transform="translate(362.5,375.1) scale(1,1.1)" x="0" y="0" font-size="10" font-family='"Liberation Mono", monospace' font-weight="normal" text-anchor="middle" fill="#000"  stroke="#000" stroke-width="0.3">N2</text>
<rect x="350.5" y="384.70000000000005" width="24.0" height="9.8" rx="4.9" ry="4.9" stroke="#000" stroke-width="1.2" fill="#fff"/>
<text transform="translate(362.5,393.1) scale(1,1.1)" x="0" y="0" font-size="10" font-family='"Liberation Mono", monospace' font-weight="normal" text-anchor="middle" fill="#000"  stroke="#000" stroke-width="0.3">M7</text>
<line x1="336.8" y1="386" x2="336.8" y2="391" stroke="#000" stroke-width="4" />
<text transform="translate(336.8,401.4) scale(1,1.1)" x="0" y="0" font-size="10" font-family='"Liberation Mono", monospace' font-weight="normal" text-anchor="middle" fill="#000"  stroke="#000" stroke-width="0.2">W</text>
<path d="M336.8,405 L336.8,524" stroke="#000" stroke-width="5" fill="none" stroke-linejoin="miter" stroke-linecap="butt"/>
<path d="M336.8,469.5 L263.5,469.5 L263.5,558.5" stroke="#000" stroke-width="5" fill="none" stroke-linejoin="miter" stroke-linecap="butt"/>
<path d="M301,469.5 L305.9,464.6 L314.5,464.6 L319.4,469.5 L314.5,474.4 L305.9,474.4 Z" stroke="#000" stroke-width="1.2" fill="#fff"/>
<text transform="translate(310.2,473.0) scale(1,1.1)" x="0" y="0" font-size="10" font-family='"Liberation Mono", monospace' font-weight="normal" text-anchor="middle" fill="#000"  stroke="#000" stroke-width="0.35">LK</text>
<path d="M273,505 L270.4,511.5 L272.1,511.5 L272.1,521 L273.9,521 L273.9,511.5 L275.6,511.5 Z" fill="#000"/>
<path d="M289,435.3 L336.8,435.3" stroke="#000" stroke-width="5" fill="none" stroke-linejoin="miter" stroke-linecap="butt"/>
<path d="M301,435.3 L305.9,430.40000000000003 L314.5,430.40000000000003 L319.4,435.3 L314.5,440.2 L305.9,440.2 Z" stroke="#000" stroke-width="1.2" fill="#fff"/>
<text transform="translate(310.2,438.8) scale(1,1.1)" x="0" y="0" font-size="10" font-family='"Liberation Mono", monospace' font-weight="normal" text-anchor="middle" fill="#000"  stroke="#000" stroke-width="0.35">CB</text>
<circle cx="336.8" cy="435.3" r="5.2" stroke="#000" stroke-width="1.4" fill="#fff"/>
<circle cx="336.8" cy="469.5" r="5.2" stroke="#000" stroke-width="1.4" fill="#fff"/>
<path d="M326,489.8 L330.9,484.90000000000003 L340.8,484.90000000000003 L345.7,489.8 L340.8,494.7 L330.9,494.7 Z" stroke="#000" stroke-width="1.2" fill="#fff"/>
<text transform="translate(335.85,493.3) scale(1,1.1)" x="0" y="0" font-size="10" font-family='"Liberation Mono", monospace' font-weight="normal" text-anchor="middle" fill="#000"  stroke="#000" stroke-width="0.35">RV</text>
<path d="M345.8,406.5 L343.2,413.0 L344.90000000000003,413.0 L344.90000000000003,423 L346.7,423 L346.7,413.0 L348.40000000000003,413.0 Z" fill="#000"/>
<path d="M345.8,504.6 L343.2,511.1 L344.90000000000003,511.1 L344.90000000000003,520 L346.7,520 L346.7,511.1 L348.40000000000003,511.1 Z" fill="#000"/>
<text transform="translate(336.8,532.8) scale(1,1.1)" x="0" y="0" font-size="10" font-family='"Liberation Mono", monospace' font-weight="normal" text-anchor="middle" fill="#000"  stroke="#000" stroke-width="0.2">W</text>
<line x1="336.8" y1="536" x2="336.8" y2="541.7" stroke="#000" stroke-width="4" />
<rect x="328.6" y="541.7" width="16.4" height="10.8" stroke="#000" stroke-width="1.5" fill="#fff"/>
<path d="M326.40000000000003,544.2 L326.40000000000003,555.0 L347.2,555.0 L347.2,544.2" stroke="#000" stroke-width="1.5" fill="none" />
<text transform="translate(336.8,550.3000000000001) scale(1,1.1)" x="0" y="0" font-size="9.6" font-family='"Liberation Mono", monospace' font-weight="normal" text-anchor="middle" fill="#000"  stroke="#000" stroke-width="0.25">14</text>
<rect x="353" y="533.9" width="23" height="9.8" rx="4.9" ry="4.9" stroke="#000" stroke-width="1.2" fill="#fff"/>
<text transform="translate(364.5,542.3) scale(1,1.1)" x="0" y="0" font-size="10" font-family='"Liberation Mono", monospace' font-weight="normal" text-anchor="middle" fill="#000"  stroke="#000" stroke-width="0.3">M48</text>
<rect x="353" y="549.7" width="23" height="9.8" rx="4.9" ry="4.9" stroke="#000" stroke-width="1.2" fill="#fff"/>
<text transform="translate(364.5,558.1) scale(1,1.1)" x="0" y="0" font-size="10" font-family='"Liberation Mono", monospace' font-weight="normal" text-anchor="middle" fill="#000"  stroke="#000" stroke-width="0.3">F54</text>
<line x1="336.8" y1="554" x2="336.8" y2="559" stroke="#000" stroke-width="4" />
<text transform="translate(336.8,569.4) scale(1,1.1)" x="0" y="0" font-size="10" font-family='"Liberation Mono", monospace' font-weight="normal" text-anchor="middle" fill="#000"  stroke="#000" stroke-width="0.2">W</text>
<line x1="336.8" y1="572.5" x2="336.8" y2="577.3" stroke="#000" stroke-width="4" />
<rect x="310.3" y="589.5" width="49.39999999999998" height="45.5" stroke="#000" stroke-width="1.4" fill="#fff"/>
<path d="M326.5,590 L326.5,577.3 L347.1,577.3 L347.1,590" stroke="#000" stroke-width="1.4" fill="none" />
<rect x="328.3" y="579" width="17" height="11" stroke="#000" stroke-width="1.3" fill="#fff"/>
<line x1="333.5" y1="581.6" x2="333.5" y2="586.8" stroke="#000" stroke-width="1.3" />
<line x1="331.25" y1="582.9" x2="335.75" y2="585.5" stroke="#000" stroke-width="1.3" />
<line x1="335.75" y1="582.9" x2="331.25" y2="585.5" stroke="#000" stroke-width="1.3" />
<text transform="translate(339.5,588.6) scale(1,1.1)" x="0" y="0" font-size="9.6" font-family='"Liberation Mono", monospace' font-weight="normal" text-anchor="middle" fill="#000"  stroke="#000" stroke-width="0.3">3</text>
<text transform="translate(321.4,602.6) scale(1,1.1)" x="0" y="0" font-size="9.6" font-family='"Liberation Mono", monospace' font-weight="normal" text-anchor="start" fill="#000" textLength="30" lengthAdjust="spacingAndGlyphs"  stroke="#000" stroke-width="0.15">TACHO</text>
<text transform="translate(309,646.4) scale(1,1.1)" x="0" y="0" font-size="10.4" font-family='"Liberation Mono", monospace' font-weight="normal" text-anchor="start" fill="#000" textLength="17.5" lengthAdjust="spacingAndGlyphs"  stroke="#000" stroke-width="0.15">ECM</text>
<rect x="308" y="651.4" width="22.69999999999999" height="9.8" rx="4.9" ry="4.9" stroke="#000" stroke-width="1.2" fill="#fff"/>
<text transform="translate(319.35,659.8) scale(1,1.1)" x="0" y="0" font-size="10" font-family='"Liberation Mono", monospace' font-weight="normal" text-anchor="middle" fill="#000"  stroke="#000" stroke-width="0.3">F51</text>
<text transform="translate(333,659.5) scale(1,1.1)" x="0" y="0" font-size="10.4" font-family='"Liberation Mono", monospace' font-weight="normal" text-anchor="start" fill="#000"  stroke="#000" stroke-width="0.2">:</text>
<path d="M341.6,656.3 L346.5,651.4 L356.8,651.4 L361.7,656.3 L356.8,661.1999999999999 L346.5,661.1999999999999 Z" stroke="#000" stroke-width="1.2" fill="#fff"/>
<text transform="translate(351.65,659.8) scale(1,1.1)" x="0" y="0" font-size="10" font-family='"Liberation Mono", monospace' font-weight="normal" text-anchor="middle" fill="#000"  stroke="#000" stroke-width="0.35">RV</text>
<text transform="translate(263.5,569.4) scale(1,1.1)" x="0" y="0" font-size="10" font-family='"Liberation Mono", monospace' font-weight="normal" text-anchor="middle" fill="#000"  stroke="#000" stroke-width="0.2">W</text>
<line x1="263.5" y1="572.5" x2="263.5" y2="577.3" stroke="#000" stroke-width="4" />
<rect x="237.8" y="589.5" width="48.80000000000001" height="45.5" stroke="#000" stroke-width="1.4" fill="#fff"/>
<path d="M253.2,590 L253.2,577.3 L273.8,577.3 L273.8,590" stroke="#000" stroke-width="1.4" fill="none" />
<rect x="255.0" y="579" width="17" height="11" stroke="#000" stroke-width="1.3" fill="#fff"/>
<line x1="260.2" y1="581.6" x2="260.2" y2="586.8" stroke="#000" stroke-width="1.3" />
<line x1="257.95" y1="582.9" x2="262.45" y2="585.5" stroke="#000" stroke-width="1.3" />
<line x1="262.45" y1="582.9" x2="257.95" y2="585.5" stroke="#000" stroke-width="1.3" />
<text transform="translate(266.2,588.6) scale(1,1.1)" x="0" y="0" font-size="9.6" font-family='"Liberation Mono", monospace' font-weight="normal" text-anchor="middle" fill="#000"  stroke="#000" stroke-width="0.3">2</text>
<text transform="translate(248.3,602.6) scale(1,1.1)" x="0" y="0" font-size="9.6" font-family='"Liberation Mono", monospace' font-weight="normal" text-anchor="start" fill="#000" textLength="30" lengthAdjust="spacingAndGlyphs"  stroke="#000" stroke-width="0.15">TACHO</text>
<text transform="translate(235.9,646.4) scale(1,1.1)" x="0" y="0" font-size="10.4" font-family='"Liberation Mono", monospace' font-weight="normal" text-anchor="start" fill="#000" textLength="17.5" lengthAdjust="spacingAndGlyphs"  stroke="#000" stroke-width="0.15">ECM</text>
<rect x="234.9" y="651.4" width="23.700000000000017" height="9.8" rx="4.9" ry="4.9" stroke="#000" stroke-width="1.2" fill="#fff"/>
<text transform="translate(246.75,659.8) scale(1,1.1)" x="0" y="0" font-size="10" font-family='"Liberation Mono", monospace' font-weight="normal" text-anchor="middle" fill="#000"  stroke="#000" stroke-width="0.3">M32</text>
<text transform="translate(260,659.5) scale(1,1.1)" x="0" y="0" font-size="10.4" font-family='"Liberation Mono", monospace' font-weight="normal" text-anchor="start" fill="#000"  stroke="#000" stroke-width="0.2">:</text>
<path d="M267.5,656.3 L272.4,651.4 L284.3,651.4 L289.2,656.3 L284.3,661.1999999999999 L272.4,661.1999999999999 Z" stroke="#000" stroke-width="1.2" fill="#fff"/>
<text transform="translate(278.35,659.8) scale(1,1.1)" x="0" y="0" font-size="10" font-family='"Liberation Mono", monospace' font-weight="normal" text-anchor="middle" fill="#000"  stroke="#000" stroke-width="0.35">LK</text>
<text transform="translate(272.6,438.5) scale(1,1.1)" x="0" y="0" font-size="10" font-family='"Liberation Mono", monospace' font-weight="normal" text-anchor="middle" fill="#000"  stroke="#000" stroke-width="0.2">W</text>
<line x1="228.5" y1="435.3" x2="236.2" y2="435.3" stroke="#000" stroke-width="4.8" />
<line x1="252" y1="435.3" x2="256.9" y2="435.3" stroke="#000" stroke-width="4.8" />
<path d="M243.8,427.7 L233.4,427.7 L233.4,442.40000000000003 L243.8,442.40000000000003" stroke="#000" stroke-width="1.5" fill="none" />
<rect x="236.2" y="430.2" width="15.8" height="10.1" stroke="#000" stroke-width="1.6" fill="#fff"/>
<line x1="240.5" y1="432.4" x2="240.5" y2="437.6" stroke="#000" stroke-width="1.3" />
<line x1="238.25" y1="433.7" x2="242.75" y2="436.3" stroke="#000" stroke-width="1.3" />
<line x1="242.75" y1="433.7" x2="238.25" y2="436.3" stroke="#000" stroke-width="1.3" />
<text transform="translate(246.5,438.90000000000003) scale(1,1.1)" x="0" y="0" font-size="9.6" font-family='"Liberation Mono", monospace' font-weight="normal" text-anchor="middle" fill="#000"  stroke="#000" stroke-width="0.3">1</text>
<rect x="216" y="413.1" width="24" height="9.8" rx="4.9" ry="4.9" stroke="#000" stroke-width="1.2" fill="#fff"/>
<text transform="translate(228.0,421.5) scale(1,1.1)" x="0" y="0" font-size="10" font-family='"Liberation Mono", monospace' font-weight="normal" text-anchor="middle" fill="#000" textLength="19.59" lengthAdjust="spacingAndGlyphs"  stroke="#000" stroke-width="0.3">E101</text>
<rect x="249" y="413.1" width="23.600000000000023" height="9.8" rx="4.9" ry="4.9" stroke="#000" stroke-width="1.2" fill="#fff"/>
<text transform="translate(260.8,421.5) scale(1,1.1)" x="0" y="0" font-size="10" font-family='"Liberation Mono", monospace' font-weight="normal" text-anchor="middle" fill="#000"  stroke="#000" stroke-width="0.3">M5</text>
<text transform="translate(212.7,438.5) scale(1,1.1)" x="0" y="0" font-size="10" font-family='"Liberation Mono", monospace' font-weight="normal" text-anchor="middle" fill="#000"  stroke="#000" stroke-width="0.2">W</text>
<path d="M197.5,435.3 L130.7,435.3 L130.7,449" stroke="#000" stroke-width="5" fill="none" stroke-linejoin="miter" stroke-linecap="butt"/>
<path d="M157.3,426.2 L150.8,423.6 L150.8,425.3 L137.8,425.3 L137.8,427.1 L150.8,427.1 L150.8,428.8 Z" fill="#000"/>
<line x1="393.5" y1="351.3" x2="393.5" y2="357" stroke="#000" stroke-width="4" />
<text transform="translate(393.5,365.4) scale(1,1.1)" x="0" y="0" font-size="10" font-family='"Liberation Mono", monospace' font-weight="normal" text-anchor="middle" fill="#000"  stroke="#000" stroke-width="0.2">Y/G</text>
<line x1="393.5" y1="368.5" x2="393.5" y2="374" stroke="#000" stroke-width="4" />
<path d="M383.1,384.4 L383.1,374 L403.9,374 L403.9,384.4" stroke="#000" stroke-width="1.5" fill="none" />
<rect x="385.3" y="376.2" width="16.4" height="10.4" stroke="#000" stroke-width="1.5" fill="#fff"/>
<text transform="translate(393.5,384.7) scale(1,1.1)" x="0" y="0" font-size="9.6" font-family='"Liberation Mono", monospace' font-weight="normal" text-anchor="middle" fill="#000"  stroke="#000" stroke-width="0.25">11</text>
<line x1="393.5" y1="386" x2="393.5" y2="390" stroke="#000" stroke-width="4" />
<text transform="translate(393.5,401.4) scale(1,1.1)" x="0" y="0" font-size="10" font-family='"Liberation Mono", monospace' font-weight="normal" text-anchor="middle" fill="#000"  stroke="#000" stroke-width="0.2">Y/G</text>
<line x1="393.5" y1="404" x2="393.5" y2="409" stroke="#000" stroke-width="4" />
<rect x="385.3" y="409.2" width="16.4" height="10.8" stroke="#000" stroke-width="1.5" fill="#fff"/>
<path d="M383.1,411.7 L383.1,422.5 L403.9,422.5 L403.9,411.7" stroke="#000" stroke-width="1.5" fill="none" />
<text transform="translate(393.5,417.8) scale(1,1.1)" x="0" y="0" font-size="9.6" font-family='"Liberation Mono", monospace' font-weight="normal" text-anchor="middle" fill="#000"  stroke="#000" stroke-width="0.25">14</text>
<rect x="409" y="404.3" width="22.80000000000001" height="9.8" rx="4.9" ry="4.9" stroke="#000" stroke-width="1.2" fill="#fff"/>
<text transform="translate(420.4,412.7) scale(1,1.1)" x="0" y="0" font-size="10" font-family='"Liberation Mono", monospace' font-weight="normal" text-anchor="middle" fill="#000" textLength="18.39000000000001" lengthAdjust="spacingAndGlyphs"  stroke="#000" stroke-width="0.3">M121</text>
<rect x="409" y="420.70000000000005" width="22.80000000000001" height="9.8" rx="4.9" ry="4.9" stroke="#000" stroke-width="1.2" fill="#fff"/>
<text transform="translate(420.4,429.1) scale(1,1.1)" x="0" y="0" font-size="10" font-family='"Liberation Mono", monospace' font-weight="normal" text-anchor="middle" fill="#000"  stroke="#000" stroke-width="0.3">C9</text>
<line x1="393.5" y1="421" x2="393.5" y2="426" stroke="#000" stroke-width="4" />
<text transform="translate(393.5,436.5) scale(1,1.1)" x="0" y="0" font-size="10" font-family='"Liberation Mono", monospace' font-weight="normal" text-anchor="middle" fill="#000"  stroke="#000" stroke-width="0.2">Y/G</text>
<line x1="393.5" y1="439.5" x2="393.5" y2="444.7" stroke="#000" stroke-width="4" />
<path d="M383.0,456 L383.0,444.7 L404.0,444.7 L404.0,456" stroke="#000" stroke-width="1.4" fill="none" />
<rect x="385.0" y="446.5" width="17" height="11" stroke="#000" stroke-width="1.3" fill="#fff"/>
<text transform="translate(393.5,455.3) scale(1,1.1)" x="0" y="0" font-size="9.6" font-family='"Liberation Mono", monospace' font-weight="normal" text-anchor="middle" fill="#000"  stroke="#000" stroke-width="0.15">3</text>
<rect x="382.0" y="458.4" width="23" height="33.6" stroke="#000" stroke-width="1.4" fill="#fff"/>
<path d="M393.5,458.4 L393.5,465.12 L390.30,466.56 L396.70,469.44 L390.30,472.32 L396.70,475.20 L390.30,478.08 L396.70,480.96 L390.30,483.84 L393.5,485.28 L393.5,492" stroke="#000" stroke-width="1.2" fill="none" />
<line x1="385.0" y1="483.6" x2="401.0" y2="466.79999999999995" stroke="#000" stroke-width="1.3" />
<path d="M403.0,465.12 L397.7,467.47 L401.1,470.50 Z" fill="#000"/>
<rect x="385.0" y="493.3" width="17" height="10.5" stroke="#000" stroke-width="1.3" fill="#fff"/>
<path d="M383.0,496 L383.0,505.4 L404.0,505.4 L404.0,496" stroke="#000" stroke-width="1.4" fill="none" />
<text transform="translate(393.5,501.8) scale(1,1.1)" x="0" y="0" font-size="9.6" font-family='"Liberation Mono", monospace' font-weight="normal" text-anchor="middle" fill="#000"  stroke="#000" stroke-width="0.15">1</text>
<text transform="translate(411,455.5) scale(1,1.1)" x="0" y="0" font-size="10" font-family='"Liberation Mono", monospace' font-weight="normal" text-anchor="start" fill="#000" textLength="24" lengthAdjust="spacingAndGlyphs"  stroke="#000" stroke-width="0.15">FUEL</text>
<text transform="translate(411,465.4) scale(1,1.1)" x="0" y="0" font-size="10" font-family='"Liberation Mono", monospace' font-weight="normal" text-anchor="start" fill="#000" textLength="30" lengthAdjust="spacingAndGlyphs"  stroke="#000" stroke-width="0.15">LEVEL</text>
<text transform="translate(411,475.2) scale(1,1.1)" x="0" y="0" font-size="10" font-family='"Liberation Mono", monospace' font-weight="normal" text-anchor="start" fill="#000" textLength="36" lengthAdjust="spacingAndGlyphs"  stroke="#000" stroke-width="0.15">SENSOR</text>
<text transform="translate(411,485) scale(1,1.1)" x="0" y="0" font-size="10" font-family='"Liberation Mono", monospace' font-weight="normal" text-anchor="start" fill="#000" textLength="24" lengthAdjust="spacingAndGlyphs"  stroke="#000" stroke-width="0.15">UNIT</text>
<rect x="413" y="491.5" width="24" height="9.8" rx="4.9" ry="4.9" stroke="#000" stroke-width="1.2" fill="#fff"/>
<text transform="translate(425.0,499.9) scale(1,1.1)" x="0" y="0" font-size="10" font-family='"Liberation Mono", monospace' font-weight="normal" text-anchor="middle" fill="#000"  stroke="#000" stroke-width="0.3">C3</text>
<line x1="393.5" y1="505.4" x2="393.5" y2="510" stroke="#000" stroke-width="4" />
<text transform="translate(393.5,519.7) scale(1,1.1)" x="0" y="0" font-size="10" font-family='"Liberation Mono", monospace' font-weight="normal" text-anchor="middle" fill="#000"  stroke="#000" stroke-width="0.2">B</text>
<path d="M393.5,524 L393.5,539.4" stroke="#000" stroke-width="5" fill="none" stroke-linejoin="miter" stroke-linecap="butt"/>
<text transform="translate(393.5,549.2) scale(1,1.1)" x="0" y="0" font-size="10" font-family='"Liberation Mono", monospace' font-weight="normal" text-anchor="middle" fill="#000"  stroke="#000" stroke-width="0.2">B</text>
<line x1="393.5" y1="552.5" x2="393.5" y2="557.2" stroke="#000" stroke-width="4" />
<path d="M383.1,567.6 L383.1,557.2 L403.9,557.2 L403.9,567.6" stroke="#000" stroke-width="1.5" fill="none" />
<rect x="385.3" y="559.4000000000001" width="16.4" height="10.4" stroke="#000" stroke-width="1.5" fill="#fff"/>
<text transform="translate(393.5,567.9000000000001) scale(1,1.1)" x="0" y="0" font-size="9.6" font-family='"Liberation Mono", monospace' font-weight="normal" text-anchor="middle" fill="#000"  stroke="#000" stroke-width="0.25">11</text>
<rect x="409" y="551.9" width="22.600000000000023" height="9.8" rx="4.9" ry="4.9" stroke="#000" stroke-width="1.2" fill="#fff"/>
<text transform="translate(420.3,560.3) scale(1,1.1)" x="0" y="0" font-size="10" font-family='"Liberation Mono", monospace' font-weight="normal" text-anchor="middle" fill="#000"  stroke="#000" stroke-width="0.3">C9</text>
<rect x="409" y="568.5" width="22.600000000000023" height="9.8" rx="4.9" ry="4.9" stroke="#000" stroke-width="1.2" fill="#fff"/>
<text transform="translate(420.3,576.9) scale(1,1.1)" x="0" y="0" font-size="10" font-family='"Liberation Mono", monospace' font-weight="normal" text-anchor="middle" fill="#000" textLength="18.190000000000023" lengthAdjust="spacingAndGlyphs"  stroke="#000" stroke-width="0.3">M121</text>
<line x1="393.5" y1="568.5" x2="393.5" y2="572.5" stroke="#000" stroke-width="4" />
<text transform="translate(393.5,585) scale(1,1.1)" x="0" y="0" font-size="10" font-family='"Liberation Mono", monospace' font-weight="normal" text-anchor="middle" fill="#000"  stroke="#000" stroke-width="0.2">B</text>
<path d="M393.5,588.5 L393.5,620" stroke="#000" stroke-width="5" fill="none" stroke-linejoin="miter" stroke-linecap="butt"/>
<path d="M393.5,607.3 L421.7,607.3 L421.7,620" stroke="#000" stroke-width="5" fill="none" stroke-linejoin="miter" stroke-linecap="butt"/>
<circle cx="393.5" cy="607.3" r="5.0" stroke="#000" stroke-width="0" fill="#000"/>
<text transform="translate(393.5,631.5) scale(1,1.1)" x="0" y="0" font-size="10" font-family='"Liberation Mono", monospace' font-weight="normal" text-anchor="middle" fill="#000"  stroke="#000" stroke-width="0.2">B</text>
<text transform="translate(421.7,631.5) scale(1,1.1)" x="0" y="0" font-size="10" font-family='"Liberation Mono", monospace' font-weight="normal" text-anchor="middle" fill="#000"  stroke="#000" stroke-width="0.2">B</text>
<line x1="393.5" y1="635" x2="393.5" y2="641" stroke="#000" stroke-width="4" />
<line x1="387.5" y1="641.3" x2="399.5" y2="641.3" stroke="#000" stroke-width="1.1" />
<line x1="389.3" y1="643.2" x2="397.7" y2="643.2" stroke="#000" stroke-width="1.1" />
<line x1="391.1" y1="645" x2="395.9" y2="645" stroke="#000" stroke-width="1.1" />
<line x1="421.7" y1="635" x2="421.7" y2="641" stroke="#000" stroke-width="4" />
<line x1="415.7" y1="641.3" x2="427.7" y2="641.3" stroke="#000" stroke-width="1.1" />
<line x1="417.5" y1="643.2" x2="425.9" y2="643.2" stroke="#000" stroke-width="1.1" />
<line x1="419.3" y1="645" x2="424.09999999999997" y2="645" stroke="#000" stroke-width="1.1" />
<rect x="381.5" y="651.1" width="23.19999999999999" height="9.8" rx="4.9" ry="4.9" stroke="#000" stroke-width="1.2" fill="#fff"/>
<text transform="translate(393.1,659.5) scale(1,1.1)" x="0" y="0" font-size="10" font-family='"Liberation Mono", monospace' font-weight="normal" text-anchor="middle" fill="#000"  stroke="#000" stroke-width="0.3">M1</text>
<rect x="410" y="651.1" width="23.30000000000001" height="9.8" rx="4.9" ry="4.9" stroke="#000" stroke-width="1.2" fill="#fff"/>
<text transform="translate(421.65,659.5) scale(1,1.1)" x="0" y="0" font-size="10" font-family='"Liberation Mono", monospace' font-weight="normal" text-anchor="middle" fill="#000"  stroke="#000" stroke-width="0.3">M54</text>
<line x1="541.5" y1="351.3" x2="541.5" y2="357" stroke="#000" stroke-width="4" />
<text transform="translate(541.5,365.4) scale(1,1.1)" x="0" y="0" font-size="10" font-family='"Liberation Mono", monospace' font-weight="normal" text-anchor="middle" fill="#000"  stroke="#000" stroke-width="0.2">Y/R</text>
<line x1="541.5" y1="368.5" x2="541.5" y2="374" stroke="#000" stroke-width="4" />
<path d="M531.1,384.4 L531.1,374 L551.9,374 L551.9,384.4" stroke="#000" stroke-width="1.5" fill="none" />
<rect x="533.3" y="376.2" width="16.4" height="10.4" stroke="#000" stroke-width="1.5" fill="#fff"/>
<text transform="translate(541.5,384.7) scale(1,1.1)" x="0" y="0" font-size="9.6" font-family='"Liberation Mono", monospace' font-weight="normal" text-anchor="middle" fill="#000"  stroke="#000" stroke-width="0.25">9</text>
<line x1="541.5" y1="386" x2="541.5" y2="390" stroke="#000" stroke-width="4" />
<text transform="translate(541.5,401.4) scale(1,1.1)" x="0" y="0" font-size="10" font-family='"Liberation Mono", monospace' font-weight="normal" text-anchor="middle" fill="#000"  stroke="#000" stroke-width="0.2">Y/R</text>
<path d="M541.5,405 L541.5,483.4" stroke="#000" stroke-width="5" fill="none" stroke-linejoin="miter" stroke-linecap="butt"/>
<path d="M474.6,499.3 L474.6,423.8 L596.5,423.8 L596.5,465" stroke="#000" stroke-width="5" fill="none" stroke-linejoin="miter" stroke-linecap="butt"/>
<path d="M506.5,423.8 L511.4,418.90000000000003 L521.2,418.90000000000003 L526.1,423.8 L521.2,428.7 L511.4,428.7 Z" stroke="#000" stroke-width="1.2" fill="#fff"/>
<text transform="translate(516.3,427.3) scale(1,1.1)" x="0" y="0" font-size="10" font-family='"Liberation Mono", monospace' font-weight="normal" text-anchor="middle" fill="#000"  stroke="#000" stroke-width="0.35">RV</text>
<path d="M559.2,423.8 L564.1,418.90000000000003 L572.7,418.90000000000003 L577.6,423.8 L572.7,428.7 L564.1,428.7 Z" stroke="#000" stroke-width="1.2" fill="#fff"/>
<text transform="translate(568.4000000000001,427.3) scale(1,1.1)" x="0" y="0" font-size="10" font-family='"Liberation Mono", monospace' font-weight="normal" text-anchor="middle" fill="#000"  stroke="#000" stroke-width="0.35">CB</text>
<circle cx="541.5" cy="423.8" r="5" stroke="#000" stroke-width="1.3" fill="#fff"/>
<path d="M530.5,442.2 L535.4,437.3 L547.0,437.3 L551.9,442.2 L547.0,447.09999999999997 L535.4,447.09999999999997 Z" stroke="#000" stroke-width="1.2" fill="#fff"/>
<text transform="translate(541.2,445.7) scale(1,1.1)" x="0" y="0" font-size="10" font-family='"Liberation Mono", monospace' font-weight="normal" text-anchor="middle" fill="#000"  stroke="#000" stroke-width="0.35">LK</text>
<text transform="translate(541.5,495.6) scale(1,1.1)" x="0" y="0" font-size="10" font-family='"Liberation Mono", monospace' font-weight="normal" text-anchor="middle" fill="#000"  stroke="#000" stroke-width="0.2">Y/R</text>
<line x1="541.5" y1="498.5" x2="541.5" y2="503" stroke="#000" stroke-width="4" />
<path d="M531.0,514 L531.0,503 L552.0,503 L552.0,514" stroke="#000" stroke-width="1.4" fill="none" />
<rect x="533.0" y="504.8" width="17" height="10.5" stroke="#000" stroke-width="1.3" fill="#fff"/>
<text transform="translate(541.5,513.5) scale(1,1.1)" x="0" y="0" font-size="9.6" font-family='"Liberation Mono", monospace' font-weight="normal" text-anchor="middle" fill="#000"  stroke="#000" stroke-width="0.15">1</text>
<rect x="529.5" y="516.5" width="24" height="34" stroke="#000" stroke-width="1.4" fill="#fff"/>
<path d="M541.5,516.5 L541.5,523.3 L538.30,524.76 L544.70,527.67 L538.30,530.59 L544.70,533.50 L538.30,536.41 L544.70,539.33 L538.30,542.24 L541.5,543.7 L541.5,550.5" stroke="#000" stroke-width="1.2" fill="none" />
<line x1="533.0" y1="542.0" x2="549.0" y2="525.0" stroke="#000" stroke-width="1.3" />
<path d="M551.0,523.30 L545.7,525.68 L549.1,528.74 Z" fill="#000"/>
<line x1="541.5" y1="550.5" x2="541.5" y2="561" stroke="#000" stroke-width="1.2" />
<line x1="535.5" y1="561.5" x2="547.5" y2="561.5" stroke="#000" stroke-width="1.1" />
<line x1="537.3" y1="563.5" x2="545.7" y2="563.5" stroke="#000" stroke-width="1.1" />
<line x1="539.1" y1="565.5" x2="543.9" y2="565.5" stroke="#000" stroke-width="1.1" />
<text transform="translate(520,576.8) scale(1,1.1)" x="0" y="0" font-size="10" font-family='"Liberation Mono", monospace' font-weight="normal" text-anchor="start" fill="#000" textLength="43" lengthAdjust="spacingAndGlyphs"  stroke="#000" stroke-width="0.2">THERMAL</text>
<text transform="translate(520,585.4) scale(1,1.1)" x="0" y="0" font-size="10" font-family='"Liberation Mono", monospace' font-weight="normal" text-anchor="start" fill="#000" textLength="37" lengthAdjust="spacingAndGlyphs"  stroke="#000" stroke-width="0.2">TRANS-</text>
<text transform="translate(520,595.2) scale(1,1.1)" x="0" y="0" font-size="10" font-family='"Liberation Mono", monospace' font-weight="normal" text-anchor="start" fill="#000" textLength="37" lengthAdjust="spacingAndGlyphs"  stroke="#000" stroke-width="0.2">MITTER</text>
<rect x="515" y="601.1" width="22" height="9" rx="4.5" ry="4.5" stroke="#000" stroke-width="1.2" fill="#fff"/>
<text transform="translate(526.0,609.1) scale(1,1.1)" x="0" y="0" font-size="10" font-family='"Liberation Mono", monospace' font-weight="normal" text-anchor="middle" fill="#000" textLength="17.95" lengthAdjust="spacingAndGlyphs"  stroke="#000" stroke-width="0.3">M209</text>
<text transform="translate(541.5,609) scale(1,1.1)" x="0" y="0" font-size="10.4" font-family='"Liberation Mono", monospace' font-weight="normal" text-anchor="start" fill="#000"  stroke="#000" stroke-width="0.2">:</text>
<path d="M550.6,605.6 L555.5,600.7 L565.4,600.7 L570.3,605.6 L565.4,610.5 L555.5,610.5 Z" stroke="#000" stroke-width="1.2" fill="#fff"/>
<text transform="translate(560.45,609.1) scale(1,1.1)" x="0" y="0" font-size="10" font-family='"Liberation Mono", monospace' font-weight="normal" text-anchor="middle" fill="#000"  stroke="#000" stroke-width="0.35">LK</text>
<text transform="translate(474.6,509.9) scale(1,1.1)" x="0" y="0" font-size="10" font-family='"Liberation Mono", monospace' font-weight="normal" text-anchor="middle" fill="#000"  stroke="#000" stroke-width="0.2">Y/R</text>
<line x1="474.6" y1="512.5" x2="474.6" y2="518" stroke="#000" stroke-width="4" />
<rect x="466.40000000000003" y="518" width="16.4" height="10.8" stroke="#000" stroke-width="1.5" fill="#fff"/>
<path d="M464.20000000000005,520.5 L464.20000000000005,531.3 L485.0,531.3 L485.0,520.5" stroke="#000" stroke-width="1.5" fill="none" />
<text transform="translate(474.6,526.6) scale(1,1.1)" x="0" y="0" font-size="9.6" font-family='"Liberation Mono", monospace' font-weight="normal" text-anchor="middle" fill="#000"  stroke="#000" stroke-width="0.25">1</text>
<rect x="490.6" y="510.5" width="23.299999999999955" height="9" rx="4.5" ry="4.5" stroke="#000" stroke-width="1.2" fill="#fff"/>
<text transform="translate(502.25,518.5) scale(1,1.1)" x="0" y="0" font-size="10" font-family='"Liberation Mono", monospace' font-weight="normal" text-anchor="middle" fill="#000"  stroke="#000" stroke-width="0.3">M48</text>
<rect x="490.6" y="528.5" width="23.299999999999955" height="9" rx="4.5" ry="4.5" stroke="#000" stroke-width="1.2" fill="#fff"/>
<text transform="translate(502.25,536.5) scale(1,1.1)" x="0" y="0" font-size="10" font-family='"Liberation Mono", monospace' font-weight="normal" text-anchor="middle" fill="#000"  stroke="#000" stroke-width="0.3">F54</text>
<line x1="474.6" y1="530" x2="474.6" y2="535" stroke="#000" stroke-width="4" />
<text transform="translate(474.6,542.7) scale(1,1.1)" x="0" y="0" font-size="10" font-family='"Liberation Mono", monospace' font-weight="normal" text-anchor="middle" fill="#000"  stroke="#000" stroke-width="0.2">Y/R</text>
<line x1="474.6" y1="545.5" x2="474.6" y2="553" stroke="#000" stroke-width="4" />
<path d="M464.1,564 L464.1,553 L485.1,553 L485.1,564" stroke="#000" stroke-width="1.4" fill="none" />
<rect x="466.1" y="554.8" width="17" height="10.5" stroke="#000" stroke-width="1.3" fill="#fff"/>
<text transform="translate(474.6,563.5) scale(1,1.1)" x="0" y="0" font-size="9.6" font-family='"Liberation Mono", monospace' font-weight="normal" text-anchor="middle" fill="#000"  stroke="#000" stroke-width="0.15">1</text>
<rect x="462.6" y="566.5" width="24" height="34" stroke="#000" stroke-width="1.4" fill="#fff"/>
<path d="M474.6,566.5 L474.6,573.3 L471.40,574.76 L477.80,577.67 L471.40,580.59 L477.80,583.50 L471.40,586.41 L477.80,589.33 L471.40,592.24 L474.6,593.7 L474.6,600.5" stroke="#000" stroke-width="1.2" fill="none" />
<line x1="466.1" y1="592.0" x2="482.1" y2="575.0" stroke="#000" stroke-width="1.3" />
<path d="M484.1,573.30 L478.8,575.68 L482.20000000000005,578.74 Z" fill="#000"/>
<line x1="474.6" y1="600.5" x2="474.6" y2="611" stroke="#000" stroke-width="1.2" />
<line x1="468.6" y1="611.5" x2="480.6" y2="611.5" stroke="#000" stroke-width="1.1" />
<line x1="470.40000000000003" y1="613.5" x2="478.8" y2="613.5" stroke="#000" stroke-width="1.1" />
<line x1="472.20000000000005" y1="615.5" x2="477.0" y2="615.5" stroke="#000" stroke-width="1.1" />
<text transform="translate(453,627.5) scale(1,1.1)" x="0" y="0" font-size="10" font-family='"Liberation Mono", monospace' font-weight="normal" text-anchor="start" fill="#000" textLength="43" lengthAdjust="spacingAndGlyphs"  stroke="#000" stroke-width="0.2">THERMAL</text>
<text transform="translate(453,636.6) scale(1,1.1)" x="0" y="0" font-size="10" font-family='"Liberation Mono", monospace' font-weight="normal" text-anchor="start" fill="#000" textLength="37" lengthAdjust="spacingAndGlyphs"  stroke="#000" stroke-width="0.2">TRANS-</text>
<text transform="translate(453,646) scale(1,1.1)" x="0" y="0" font-size="10" font-family='"Liberation Mono", monospace' font-weight="normal" text-anchor="start" fill="#000" textLength="37" lengthAdjust="spacingAndGlyphs"  stroke="#000" stroke-width="0.2">MITTER</text>
<rect x="448" y="652.1999999999999" width="23" height="9.4" rx="4.7" ry="4.7" stroke="#000" stroke-width="1.2" fill="#fff"/>
<text transform="translate(459.5,660.4) scale(1,1.1)" x="0" y="0" font-size="10" font-family='"Liberation Mono", monospace' font-weight="normal" text-anchor="middle" fill="#000"  stroke="#000" stroke-width="0.3">F9</text>
<text transform="translate(474.5,660) scale(1,1.1)" x="0" y="0" font-size="10.4" font-family='"Liberation Mono", monospace' font-weight="normal" text-anchor="start" fill="#000"  stroke="#000" stroke-width="0.2">:</text>
<path d="M484,656.9 L488.9,652.0 L500.1,652.0 L505,656.9 L500.1,661.8 L488.9,661.8 Z" stroke="#000" stroke-width="1.2" fill="#fff"/>
<text transform="translate(494.5,660.4) scale(1,1.1)" x="0" y="0" font-size="10" font-family='"Liberation Mono", monospace' font-weight="normal" text-anchor="middle" fill="#000"  stroke="#000" stroke-width="0.35">RV</text>
<text transform="translate(596.3,474.8) scale(1,1.1)" x="0" y="0" font-size="10" font-family='"Liberation Mono", monospace' font-weight="normal" text-anchor="middle" fill="#000"  stroke="#000" stroke-width="0.2">Y/R</text>
<line x1="596.3" y1="477.5" x2="596.3" y2="483" stroke="#000" stroke-width="4" />
<rect x="588.0999999999999" y="483.4" width="16.4" height="10.8" stroke="#000" stroke-width="1.5" fill="#fff"/>
<path d="M585.9,485.9 L585.9,496.7 L606.6999999999999,496.7 L606.6999999999999,485.9" stroke="#000" stroke-width="1.5" fill="none" />
<text transform="translate(596.3,492.0) scale(1,1.1)" x="0" y="0" font-size="9.6" font-family='"Liberation Mono", monospace' font-weight="normal" text-anchor="middle" fill="#000"  stroke="#000" stroke-width="0.25">5G</text>
<rect x="610.7" y="476.9" width="23.299999999999955" height="8.6" rx="4.3" ry="4.3" stroke="#000" stroke-width="1.2" fill="#fff"/>
<text transform="translate(622.35,484.7) scale(1,1.1)" x="0" y="0" font-size="10" font-family='"Liberation Mono", monospace' font-weight="normal" text-anchor="middle" fill="#000"  stroke="#000" stroke-width="0.3">M5</text>
<rect x="610.7" y="493.09999999999997" width="23.299999999999955" height="8.6" rx="4.3" ry="4.3" stroke="#000" stroke-width="1.2" fill="#fff"/>
<text transform="translate(622.35,500.9) scale(1,1.1)" x="0" y="0" font-size="10" font-family='"Liberation Mono", monospace' font-weight="normal" text-anchor="middle" fill="#000" textLength="19.429999999999954" lengthAdjust="spacingAndGlyphs"  stroke="#000" stroke-width="0.3">E101</text>
<line x1="596.3" y1="495" x2="596.3" y2="500" stroke="#000" stroke-width="4" />
<text transform="translate(596.3,509.9) scale(1,1.1)" x="0" y="0" font-size="10" font-family='"Liberation Mono", monospace' font-weight="normal" text-anchor="middle" fill="#000"  stroke="#000" stroke-width="0.2">Y/R</text>
<line x1="596.3" y1="512.5" x2="596.3" y2="518" stroke="#000" stroke-width="4" />
<rect x="588.0999999999999" y="518" width="16.4" height="10.8" stroke="#000" stroke-width="1.5" fill="#fff"/>
<path d="M585.9,520.5 L585.9,531.3 L606.6999999999999,531.3 L606.6999999999999,520.5" stroke="#000" stroke-width="1.5" fill="none" />
<text transform="translate(596.3,526.6) scale(1,1.1)" x="0" y="0" font-size="9.6" font-family='"Liberation Mono", monospace' font-weight="normal" text-anchor="middle" fill="#000"  stroke="#000" stroke-width="0.25">2</text>
<rect x="610.7" y="511.49999999999994" width="23.299999999999955" height="8.6" rx="4.3" ry="4.3" stroke="#000" stroke-width="1.2" fill="#fff"/>
<text transform="translate(622.35,519.3) scale(1,1.1)" x="0" y="0" font-size="10" font-family='"Liberation Mono", monospace' font-weight="normal" text-anchor="middle" fill="#000"  stroke="#000" stroke-width="0.3">E30</text>
<rect x="610.7" y="528.7" width="23.299999999999955" height="8.6" rx="4.3" ry="4.3" stroke="#000" stroke-width="1.2" fill="#fff"/>
<text transform="translate(622.35,536.5) scale(1,1.1)" x="0" y="0" font-size="10" font-family='"Liberation Mono", monospace' font-weight="normal" text-anchor="middle" fill="#000" textLength="19.429999999999954" lengthAdjust="spacingAndGlyphs"  stroke="#000" stroke-width="0.3">E203</text>
<line x1="596.3" y1="530" x2="596.3" y2="535" stroke="#000" stroke-width="4" />
<text transform="translate(596.3,542.7) scale(1,1.1)" x="0" y="0" font-size="10" font-family='"Liberation Mono", monospace' font-weight="normal" text-anchor="middle" fill="#000"  stroke="#000" stroke-width="0.2">Y/R</text>
<line x1="596.3" y1="545.5" x2="596.3" y2="553" stroke="#000" stroke-width="4" />
<path d="M585.8,564 L585.8,553 L606.8,553 L606.8,564" stroke="#000" stroke-width="1.4" fill="none" />
<rect x="587.8" y="554.8" width="17" height="10.5" stroke="#000" stroke-width="1.3" fill="#fff"/>
<text transform="translate(596.3,563.5) scale(1,1.1)" x="0" y="0" font-size="9.6" font-family='"Liberation Mono", monospace' font-weight="normal" text-anchor="middle" fill="#000"  stroke="#000" stroke-width="0.15">1</text>
<rect x="584.3" y="566.5" width="24" height="34" stroke="#000" stroke-width="1.4" fill="#fff"/>
<path d="M596.3,566.5 L596.3,573.3 L593.10,574.76 L599.50,577.67 L593.10,580.59 L599.50,583.50 L593.10,586.41 L599.50,589.33 L593.10,592.24 L596.3,593.7 L596.3,600.5" stroke="#000" stroke-width="1.2" fill="none" />
<line x1="587.8" y1="592.0" x2="603.8" y2="575.0" stroke="#000" stroke-width="1.3" />
<path d="M605.8,573.30 L600.5,575.68 L603.9,578.74 Z" fill="#000"/>
<line x1="596.3" y1="600.5" x2="596.3" y2="611" stroke="#000" stroke-width="1.2" />
<line x1="590.3" y1="611.5" x2="602.3" y2="611.5" stroke="#000" stroke-width="1.1" />
<line x1="592.0999999999999" y1="613.5" x2="600.5" y2="613.5" stroke="#000" stroke-width="1.1" />
<line x1="593.9" y1="615.5" x2="598.6999999999999" y2="615.5" stroke="#000" stroke-width="1.1" />
<text transform="translate(573.8,627.5) scale(1,1.1)" x="0" y="0" font-size="10" font-family='"Liberation Mono", monospace' font-weight="normal" text-anchor="start" fill="#000" textLength="43" lengthAdjust="spacingAndGlyphs"  stroke="#000" stroke-width="0.2">THERMAL</text>
<text transform="translate(573.8,636.6) scale(1,1.1)" x="0" y="0" font-size="10" font-family='"Liberation Mono", monospace' font-weight="normal" text-anchor="start" fill="#000" textLength="37" lengthAdjust="spacingAndGlyphs"  stroke="#000" stroke-width="0.2">TRANS-</text>
<text transform="translate(573.8,646) scale(1,1.1)" x="0" y="0" font-size="10" font-family='"Liberation Mono", monospace' font-weight="normal" text-anchor="start" fill="#000" textLength="37" lengthAdjust="spacingAndGlyphs"  stroke="#000" stroke-width="0.2">MITTER</text>
<rect x="569" y="651.5" width="22" height="9" rx="4.5" ry="4.5" stroke="#000" stroke-width="1.2" fill="#fff"/>
<text transform="translate(580.0,659.5) scale(1,1.1)" x="0" y="0" font-size="10" font-family='"Liberation Mono", monospace' font-weight="normal" text-anchor="middle" fill="#000" textLength="17.95" lengthAdjust="spacingAndGlyphs"  stroke="#000" stroke-width="0.3">E209</text>
<text transform="translate(594.5,659.5) scale(1,1.1)" x="0" y="0" font-size="10.4" font-family='"Liberation Mono", monospace' font-weight="normal" text-anchor="start" fill="#000"  stroke="#000" stroke-width="0.2">:</text>
<path d="M604.6,656 L609.5,651.1 L619.3000000000001,651.1 L624.2,656 L619.3000000000001,660.9 L609.5,660.9 Z" stroke="#000" stroke-width="1.2" fill="#fff"/>
<text transform="translate(614.4000000000001,659.5) scale(1,1.1)" x="0" y="0" font-size="10" font-family='"Liberation Mono", monospace' font-weight="normal" text-anchor="middle" fill="#000"  stroke="#000" stroke-width="0.35">CB</text>
<text transform="translate(130.7,458) scale(1,1.1)" x="0" y="0" font-size="10" font-family='"Liberation Mono", monospace' font-weight="normal" text-anchor="middle" fill="#000"  stroke="#000" stroke-width="0.2">W</text>
<line x1="130.7" y1="460.7" x2="130.7" y2="465" stroke="#000" stroke-width="4" />
<path d="M119.69999999999999,477 L119.69999999999999,465 L141.7,465 L141.7,477" stroke="#000" stroke-width="1.4" fill="none" />
<rect x="121.69999999999999" y="466.8" width="18" height="10.6" stroke="#000" stroke-width="1.3" fill="#fff"/>
<text transform="translate(130.7,475.6) scale(1,1.1)" x="0" y="0" font-size="9.6" font-family='"Liberation Mono", monospace' font-weight="normal" text-anchor="middle" fill="#000"  stroke="#000" stroke-width="0.15">2</text>
<rect x="118.99999999999999" y="477.6" width="23.4" height="28.8" stroke="#000" stroke-width="1.4" fill="#fff"/>
<path d="M130.7,477.6 L130.7,482 L133.7,484.5 L127.69999999999999,487.5 L133.7,490.5 L127.69999999999999,493.5 L133.7,496.5 L127.69999999999999,499.5 L130.7,501 L130.7,506.4" stroke="#000" stroke-width="1.2" fill="none" />
<rect x="121.69999999999999" y="507.5" width="18" height="10.5" stroke="#000" stroke-width="1.3" fill="#fff"/>
<path d="M119.69999999999999,508 L119.69999999999999,518.3 L141.7,518.3 L141.7,508" stroke="#000" stroke-width="1.4" fill="none" />
<text transform="translate(130.7,516.3) scale(1,1.1)" x="0" y="0" font-size="9.6" font-family='"Liberation Mono", monospace' font-weight="normal" text-anchor="middle" fill="#000"  stroke="#000" stroke-width="0.15">1</text>
<line x1="130.7" y1="518.3" x2="130.7" y2="523" stroke="#000" stroke-width="4" />
<text transform="translate(146.3,488.2) scale(1,1.1)" x="0" y="0" font-size="10.4" font-family='"Liberation Mono", monospace' font-weight="normal" text-anchor="start" fill="#000" textLength="50" lengthAdjust="spacingAndGlyphs"  stroke="#000" stroke-width="0.2">RESISTOR</text>
<rect x="149.3" y="494.40000000000003" width="23.099999999999994" height="9.8" rx="4.9" ry="4.9" stroke="#000" stroke-width="1.2" fill="#fff"/>
<text transform="translate(160.85000000000002,502.8) scale(1,1.1)" x="0" y="0" font-size="10" font-family='"Liberation Mono", monospace' font-weight="normal" text-anchor="middle" fill="#000"  stroke="#000" stroke-width="0.3">E9</text>
<text transform="translate(175.5,502.5) scale(1,1.1)" x="0" y="0" font-size="10.4" font-family='"Liberation Mono", monospace' font-weight="normal" text-anchor="start" fill="#000"  stroke="#000" stroke-width="0.2">:</text>
<path d="M185.6,499.3 L190.5,494.40000000000003 L201.1,494.40000000000003 L206,499.3 L201.1,504.2 L190.5,504.2 Z" stroke="#000" stroke-width="1.2" fill="#fff"/>
<text transform="translate(195.8,502.8) scale(1,1.1)" x="0" y="0" font-size="10" font-family='"Liberation Mono", monospace' font-weight="normal" text-anchor="middle" fill="#000"  stroke="#000" stroke-width="0.35">CB</text>
<text transform="translate(103.4,534.2) scale(1,1.1)" x="0" y="0" font-size="10" font-family='"Liberation Mono", monospace' font-weight="normal" text-anchor="middle" fill="#000"  stroke="#000" stroke-width="0.2">B/L</text>
<text transform="translate(130.7,534.2) scale(1,1.1)" x="0" y="0" font-size="10" font-family='"Liberation Mono", monospace' font-weight="normal" text-anchor="middle" fill="#000"  stroke="#000" stroke-width="0.2">L</text>
<line x1="103.2" y1="536.8" x2="103.2" y2="541" stroke="#000" stroke-width="4" />
<rect x="98.4" y="541" width="9.6" height="11" stroke="#000" stroke-width="1.3" fill="#fff"/>
<circle cx="103.2" cy="557.2" r="3.4" stroke="#000" stroke-width="2.2" fill="#fff"/>
<rect x="100.3" y="567.8" width="5.8" height="12" stroke="#000" stroke-width="1.2" fill="#fff"/>
<line x1="100.3" y1="571.8" x2="106.10000000000001" y2="571.8" stroke="#000" stroke-width="1.0" />
<line x1="100.3" y1="575.8" x2="106.10000000000001" y2="575.8" stroke="#000" stroke-width="1.0" />
<line x1="130.7" y1="536.8" x2="130.7" y2="541" stroke="#000" stroke-width="4" />
<rect x="125.89999999999999" y="541" width="9.6" height="11" stroke="#000" stroke-width="1.3" fill="#fff"/>
<circle cx="130.7" cy="557.2" r="3.4" stroke="#000" stroke-width="2.2" fill="#fff"/>
<rect x="127.79999999999998" y="567.8" width="5.8" height="12" stroke="#000" stroke-width="1.2" fill="#fff"/>
<line x1="127.79999999999998" y1="571.8" x2="133.6" y2="571.8" stroke="#000" stroke-width="1.0" />
<line x1="127.79999999999998" y1="575.8" x2="133.6" y2="575.8" stroke="#000" stroke-width="1.0" />
<path d="M89.4,580.2 L140.8,580.2 L140.8,571.4 L162.4,571.4 L162.4,618.3 L89.4,618.3 Z" stroke="#000" stroke-width="1.4" fill="none" />
<path d="M103.6,580 L103.6,607.7 L151.2,607.7" stroke="#000" stroke-width="1.3" fill="none" />
<circle cx="130.7" cy="607.7" r="1.8" stroke="#000" stroke-width="0" fill="#000"/>
<path d="M130.7,579.7 L130.7,584.6 Q134.7,585.1 134.7,588.1 L134.7,599.1 Q134.7,602.1 130.7,602.4 L130.7,607.7" stroke="#000" stroke-width="1.3" fill="none" />
<ellipse cx="130.39999999999998" cy="591.4" rx="2.3" ry="1.1" stroke="#000" stroke-width="1.3" fill="none"/>
<ellipse cx="130.39999999999998" cy="595.9" rx="2.3" ry="1.1" stroke="#000" stroke-width="1.3" fill="none"/>
<path d="M151.2,571.4 L151.2,584.6 Q147.2,585.1 147.2,588.1 L147.2,599.1 Q147.2,602.1 151.2,602.4 L151.2,607.7" stroke="#000" stroke-width="1.3" fill="none" />
<ellipse cx="151.5" cy="591.4" rx="2.3" ry="1.1" stroke="#000" stroke-width="1.3" fill="none"/>
<ellipse cx="151.5" cy="595.9" rx="2.3" ry="1.1" stroke="#000" stroke-width="1.3" fill="none"/>
<path d="M151.4,571.4 L151.4,538.6 L168,538.6" stroke="#000" stroke-width="5" fill="none" stroke-linejoin="miter" stroke-linecap="butt"/>
<path d="M176.5,538.6 L167,533 L167,544.2 Z" fill="#000"/>
<text transform="translate(181.5,536.8) scale(1,1.1)" x="0" y="0" font-size="10.4" font-family='"Liberation Mono", monospace' font-weight="normal" text-anchor="start" fill="#000" textLength="12.5" lengthAdjust="spacingAndGlyphs"  stroke="#000" stroke-width="0.2">To</text>
<text transform="translate(181.5,546.6) scale(1,1.1)" x="0" y="0" font-size="10.4" font-family='"Liberation Mono", monospace' font-weight="normal" text-anchor="start" fill="#000" textLength="69" lengthAdjust="spacingAndGlyphs"  stroke="#000" stroke-width="0.2">distributor</text>
<text transform="translate(89,629) scale(1,1.1)" x="0" y="0" font-size="10.4" font-family='"Liberation Mono", monospace' font-weight="normal" text-anchor="start" fill="#000" textLength="50" lengthAdjust="spacingAndGlyphs"  stroke="#000" stroke-width="0.2">IGNITION</text>
<text transform="translate(89,637.8) scale(1,1.1)" x="0" y="0" font-size="10.4" font-family='"Liberation Mono", monospace' font-weight="normal" text-anchor="start" fill="#000" textLength="24" lengthAdjust="spacingAndGlyphs"  stroke="#000" stroke-width="0.2">COIL</text>
<rect x="89" y="644.4" width="24.299999999999997" height="9.8" rx="4.9" ry="4.9" stroke="#000" stroke-width="1.2" fill="#fff"/>
<text transform="translate(101.15,652.8) scale(1,1.1)" x="0" y="0" font-size="10" font-family='"Liberation Mono", monospace' font-weight="normal" text-anchor="middle" fill="#000"  stroke="#000" stroke-width="0.3">E7</text>
<text transform="translate(114.5,655) scale(1,1.1)" x="0" y="0" font-size="10.4" font-family='"Liberation Mono", monospace' font-weight="normal" text-anchor="start" fill="#000"  stroke="#000" stroke-width="0.2">,</text>
<rect x="120.4" y="644.4" width="23.0" height="9.8" rx="4.9" ry="4.9" stroke="#000" stroke-width="1.2" fill="#fff"/>
<text transform="translate(131.9,652.8) scale(1,1.1)" x="0" y="0" font-size="10" font-family='"Liberation Mono", monospace' font-weight="normal" text-anchor="middle" fill="#000"  stroke="#000" stroke-width="0.3">E8</text>
<text transform="translate(146,652.5) scale(1,1.1)" x="0" y="0" font-size="10.4" font-family='"Liberation Mono", monospace' font-weight="normal" text-anchor="start" fill="#000"  stroke="#000" stroke-width="0.2">:</text>
<path d="M155.8,649.3 L160.70000000000002,644.4 L172.1,644.4 L177,649.3 L172.1,654.1999999999999 L160.70000000000002,654.1999999999999 Z" stroke="#000" stroke-width="1.2" fill="#fff"/>
<text transform="translate(166.4,652.8) scale(1,1.1)" x="0" y="0" font-size="10" font-family='"Liberation Mono", monospace' font-weight="normal" text-anchor="middle" fill="#000"  stroke="#000" stroke-width="0.35">CB</text>
<rect x="86.3" y="703.5" width="11" height="16.4" stroke="#000" stroke-width="1.3" fill="#fff"/>
<line x1="86.3" y1="709.2" x2="97.3" y2="709.2" stroke="#000" stroke-width="1.2" />
<text transform="translate(91.8,717.8) scale(1,1.1)" x="0" y="0" font-size="9.4" font-family='"Liberation Mono", monospace' font-weight="normal" text-anchor="middle" fill="#000"  stroke="#000" stroke-width="0.15">1</text>
<rect x="103.5" y="698.0" width="23.400000000000006" height="8.8" rx="4.4" ry="4.4" stroke="#000" stroke-width="1.2" fill="#fff"/>
<text transform="translate(115.2,705.9) scale(1,1.1)" x="0" y="0" font-size="10" font-family='"Liberation Mono", monospace' font-weight="normal" text-anchor="middle" fill="#000" textLength="19.440000000000005" lengthAdjust="spacingAndGlyphs"  stroke="#000" stroke-width="0.3">M209</text>
<text transform="translate(114.9,716.6) scale(1,1.1)" x="0" y="0" font-size="10" font-family='"Liberation Mono", monospace' font-weight="normal" text-anchor="middle" fill="#000"  stroke="#000" stroke-width="0.2">B</text>
<rect x="131" y="709" width="1.4" height="3" fill="#000"/>
<rect x="137.1" y="698.0" width="23.099999999999994" height="8.8" rx="4.4" ry="4.4" stroke="#000" stroke-width="1.2" fill="#fff"/>
<text transform="translate(148.64999999999998,705.9) scale(1,1.1)" x="0" y="0" font-size="10" font-family='"Liberation Mono", monospace' font-weight="normal" text-anchor="middle" fill="#000" textLength="19.139999999999993" lengthAdjust="spacingAndGlyphs"  stroke="#000" stroke-width="0.3">E209</text>
<text transform="translate(148.7,716.6) scale(1,1.1)" x="0" y="0" font-size="10" font-family='"Liberation Mono", monospace' font-weight="normal" text-anchor="middle" fill="#000"  stroke="#000" stroke-width="0.2">B</text>
<rect x="165" y="709" width="1.4" height="3" fill="#000"/>
<rect x="171.1" y="698.0" width="22.700000000000017" height="8.8" rx="4.4" ry="4.4" stroke="#000" stroke-width="1.2" fill="#fff"/>
<text transform="translate(182.45,705.9) scale(1,1.1)" x="0" y="0" font-size="10" font-family='"Liberation Mono", monospace' font-weight="normal" text-anchor="middle" fill="#000"  stroke="#000" stroke-width="0.3">F9</text>
<text transform="translate(182.5,716.6) scale(1,1.1)" x="0" y="0" font-size="10" font-family='"Liberation Mono", monospace' font-weight="normal" text-anchor="middle" fill="#000"  stroke="#000" stroke-width="0.2">B</text>
<rect x="219.7" y="696.5" width="146.7" height="22" stroke="#000" stroke-width="1.5" fill="#fff"/>
<line x1="219.7" y1="707.6" x2="366.4" y2="707.6" stroke="#000" stroke-width="1.2" />
<line x1="230.98461538461538" y1="696.5" x2="230.98461538461538" y2="707.6" stroke="#000" stroke-width="1.1" />
<line x1="242.26923076923077" y1="696.5" x2="242.26923076923077" y2="707.6" stroke="#000" stroke-width="1.1" />
<line x1="253.55384615384617" y1="696.5" x2="253.55384615384617" y2="707.6" stroke="#000" stroke-width="1.1" />
<line x1="264.83846153846156" y1="696.5" x2="264.83846153846156" y2="707.6" stroke="#000" stroke-width="1.1" />
<line x1="276.12307692307695" y1="696.5" x2="276.12307692307695" y2="707.6" stroke="#000" stroke-width="1.1" />
<line x1="287.40769230769234" y1="696.5" x2="287.40769230769234" y2="707.6" stroke="#000" stroke-width="1.1" />
<line x1="309.97692307692313" y1="696.5" x2="309.97692307692313" y2="707.6" stroke="#000" stroke-width="1.1" />
<line x1="321.2615384615385" y1="696.5" x2="321.2615384615385" y2="707.6" stroke="#000" stroke-width="1.1" />
<line x1="332.5461538461539" y1="696.5" x2="332.5461538461539" y2="707.6" stroke="#000" stroke-width="1.1" />
<line x1="343.8307692307693" y1="696.5" x2="343.8307692307693" y2="707.6" stroke="#000" stroke-width="1.1" />
<line x1="355.1153846153847" y1="696.5" x2="355.1153846153847" y2="707.6" stroke="#000" stroke-width="1.1" />
<text transform="translate(225.34230769230768,705.506) scale(1,1.1)" x="0" y="0" font-size="9.6" font-family='"Liberation Mono", monospace' font-weight="normal" text-anchor="middle" fill="#000"  stroke="#000" stroke-width="0.3">1</text>
<text transform="translate(236.62692307692308,705.506) scale(1,1.1)" x="0" y="0" font-size="9.6" font-family='"Liberation Mono", monospace' font-weight="normal" text-anchor="middle" fill="#000"  stroke="#000" stroke-width="0.3">2</text>
<text transform="translate(247.91153846153847,705.506) scale(1,1.1)" x="0" y="0" font-size="9.6" font-family='"Liberation Mono", monospace' font-weight="normal" text-anchor="middle" fill="#000"  stroke="#000" stroke-width="0.3">3</text>
<text transform="translate(259.19615384615383,705.506) scale(1,1.1)" x="0" y="0" font-size="9.6" font-family='"Liberation Mono", monospace' font-weight="normal" text-anchor="middle" fill="#000"  stroke="#000" stroke-width="0.3">4</text>
<text transform="translate(270.4807692307692,705.506) scale(1,1.1)" x="0" y="0" font-size="9.6" font-family='"Liberation Mono", monospace' font-weight="normal" text-anchor="middle" fill="#000"  stroke="#000" stroke-width="0.3">5</text>
<text transform="translate(281.7653846153846,705.506) scale(1,1.1)" x="0" y="0" font-size="9.6" font-family='"Liberation Mono", monospace' font-weight="normal" text-anchor="middle" fill="#000"  stroke="#000" stroke-width="0.3">6</text>
<text transform="translate(315.6192307692308,705.506) scale(1,1.1)" x="0" y="0" font-size="9.6" font-family='"Liberation Mono", monospace' font-weight="normal" text-anchor="middle" fill="#000"  stroke="#000" stroke-width="0.3">7</text>
<text transform="translate(326.9038461538462,705.506) scale(1,1.1)" x="0" y="0" font-size="9.6" font-family='"Liberation Mono", monospace' font-weight="normal" text-anchor="middle" fill="#000"  stroke="#000" stroke-width="0.3">8</text>
<text transform="translate(338.1884615384616,705.506) scale(1,1.1)" x="0" y="0" font-size="9.6" font-family='"Liberation Mono", monospace' font-weight="normal" text-anchor="middle" fill="#000"  stroke="#000" stroke-width="0.3">9</text>
<text transform="translate(349.473076923077,705.506) scale(1,1.1)" x="0" y="0" font-size="9.6" font-family='"Liberation Mono", monospace' font-weight="normal" text-anchor="middle" fill="#000" textLength="10.084615384615384" lengthAdjust="spacingAndGlyphs"  stroke="#000" stroke-width="0.3">10</text>
<text transform="translate(360.75769230769237,705.506) scale(1,1.1)" x="0" y="0" font-size="9.6" font-family='"Liberation Mono", monospace' font-weight="normal" text-anchor="middle" fill="#000" textLength="10.084615384615384" lengthAdjust="spacingAndGlyphs"  stroke="#000" stroke-width="0.3">11</text>
<rect x="291.9076923076923" y="699.5" width="17.555384615384614" height="5.2" stroke="#000" stroke-width="1.2" fill="none"/>
<line x1="230.98461538461538" y1="707.6" x2="230.98461538461538" y2="718.5" stroke="#000" stroke-width="1.1" />
<line x1="242.26923076923077" y1="707.6" x2="242.26923076923077" y2="718.5" stroke="#000" stroke-width="1.1" />
<line x1="253.55384615384617" y1="707.6" x2="253.55384615384617" y2="718.5" stroke="#000" stroke-width="1.1" />
<line x1="264.83846153846156" y1="707.6" x2="264.83846153846156" y2="718.5" stroke="#000" stroke-width="1.1" />
<line x1="276.12307692307695" y1="707.6" x2="276.12307692307695" y2="718.5" stroke="#000" stroke-width="1.1" />
<line x1="287.40769230769234" y1="707.6" x2="287.40769230769234" y2="718.5" stroke="#000" stroke-width="1.1" />
<line x1="298.69230769230774" y1="707.6" x2="298.69230769230774" y2="718.5" stroke="#000" stroke-width="1.1" />
<line x1="309.97692307692313" y1="707.6" x2="309.97692307692313" y2="718.5" stroke="#000" stroke-width="1.1" />
<line x1="321.2615384615385" y1="707.6" x2="321.2615384615385" y2="718.5" stroke="#000" stroke-width="1.1" />
<line x1="332.5461538461539" y1="707.6" x2="332.5461538461539" y2="718.5" stroke="#000" stroke-width="1.1" />
<line x1="343.8307692307693" y1="707.6" x2="343.8307692307693" y2="718.5" stroke="#000" stroke-width="1.1" />
<line x1="355.1153846153847" y1="707.6" x2="355.1153846153847" y2="718.5" stroke="#000" stroke-width="1.1" />
<text transform="translate(225.34230769230768,716.2900000000001) scale(1,1.1)" x="0" y="0" font-size="9" font-family='"Liberation Mono", monospace' font-weight="normal" text-anchor="middle" fill="#000" textLength="10.084615384615384" lengthAdjust="spacingAndGlyphs"  stroke="#000" stroke-width="0.3">12</text>
<text transform="translate(236.62692307692308,716.2900000000001) scale(1,1.1)" x="0" y="0" font-size="9" font-family='"Liberation Mono", monospace' font-weight="normal" text-anchor="middle" fill="#000" textLength="10.084615384615384" lengthAdjust="spacingAndGlyphs"  stroke="#000" stroke-width="0.3">13</text>
<text transform="translate(247.91153846153847,716.2900000000001) scale(1,1.1)" x="0" y="0" font-size="9" font-family='"Liberation Mono", monospace' font-weight="normal" text-anchor="middle" fill="#000" textLength="10.084615384615384" lengthAdjust="spacingAndGlyphs"  stroke="#000" stroke-width="0.3">14</text>
<text transform="translate(259.19615384615383,716.2900000000001) scale(1,1.1)" x="0" y="0" font-size="9" font-family='"Liberation Mono", monospace' font-weight="normal" text-anchor="middle" fill="#000" textLength="10.084615384615384" lengthAdjust="spacingAndGlyphs"  stroke="#000" stroke-width="0.3">15</text>
<text transform="translate(270.4807692307692,716.2900000000001) scale(1,1.1)" x="0" y="0" font-size="9" font-family='"Liberation Mono", monospace' font-weight="normal" text-anchor="middle" fill="#000" textLength="10.084615384615384" lengthAdjust="spacingAndGlyphs"  stroke="#000" stroke-width="0.3">16</text>
<text transform="translate(281.7653846153846,716.2900000000001) scale(1,1.1)" x="0" y="0" font-size="9" font-family='"Liberation Mono", monospace' font-weight="normal" text-anchor="middle" fill="#000" textLength="10.084615384615384" lengthAdjust="spacingAndGlyphs"  stroke="#000" stroke-width="0.3">17</text>
<text transform="translate(293.05,716.2900000000001) scale(1,1.1)" x="0" y="0" font-size="9" font-family='"Liberation Mono", monospace' font-weight="normal" text-anchor="middle" fill="#000" textLength="10.084615384615384" lengthAdjust="spacingAndGlyphs"  stroke="#000" stroke-width="0.3">18</text>
<text transform="translate(304.3346153846154,716.2900000000001) scale(1,1.1)" x="0" y="0" font-size="9" font-family='"Liberation Mono", monospace' font-weight="normal" text-anchor="middle" fill="#000" textLength="10.084615384615384" lengthAdjust="spacingAndGlyphs"  stroke="#000" stroke-width="0.3">19</text>
<text transform="translate(315.6192307692308,716.2900000000001) scale(1,1.1)" x="0" y="0" font-size="9" font-family='"Liberation Mono", monospace' font-weight="normal" text-anchor="middle" fill="#000" textLength="10.084615384615384" lengthAdjust="spacingAndGlyphs"  stroke="#000" stroke-width="0.3">20</text>
<text transform="translate(326.9038461538462,716.2900000000001) scale(1,1.1)" x="0" y="0" font-size="9" font-family='"Liberation Mono", monospace' font-weight="normal" text-anchor="middle" fill="#000" textLength="10.084615384615384" lengthAdjust="spacingAndGlyphs"  stroke="#000" stroke-width="0.3">21</text>
<text transform="translate(338.1884615384616,716.2900000000001) scale(1,1.1)" x="0" y="0" font-size="9" font-family='"Liberation Mono", monospace' font-weight="normal" text-anchor="middle" fill="#000" textLength="10.084615384615384" lengthAdjust="spacingAndGlyphs"  stroke="#000" stroke-width="0.3">22</text>
<text transform="translate(349.473076923077,716.2900000000001) scale(1,1.1)" x="0" y="0" font-size="9" font-family='"Liberation Mono", monospace' font-weight="normal" text-anchor="middle" fill="#000" textLength="10.084615384615384" lengthAdjust="spacingAndGlyphs"  stroke="#000" stroke-width="0.3">23</text>
<text transform="translate(360.75769230769237,716.2900000000001) scale(1,1.1)" x="0" y="0" font-size="9" font-family='"Liberation Mono", monospace' font-weight="normal" text-anchor="middle" fill="#000" textLength="10.084615384615384" lengthAdjust="spacingAndGlyphs"  stroke="#000" stroke-width="0.3">24</text>
<rect x="373" y="697.6" width="22" height="8.6" rx="4.3" ry="4.3" stroke="#000" stroke-width="1.2" fill="#fff"/>
<text transform="translate(384.0,705.4) scale(1,1.1)" x="0" y="0" font-size="10" font-family='"Liberation Mono", monospace' font-weight="normal" text-anchor="middle" fill="#000"  stroke="#000" stroke-width="0.3">N2</text>
<text transform="translate(383.8,716.7) scale(1,1.1)" x="0" y="0" font-size="10" font-family='"Liberation Mono", monospace' font-weight="normal" text-anchor="middle" fill="#000"  stroke="#000" stroke-width="0.2">BR</text>
<rect x="86.6" y="752.6" width="106.5" height="21.8" stroke="#000" stroke-width="1.5" fill="#fff"/>
<line x1="86.6" y1="764" x2="193.1" y2="764" stroke="#000" stroke-width="1.2" />
<line x1="97.6" y1="752.6" x2="97.6" y2="764.0" stroke="#000" stroke-width="1.1" />
<line x1="108.6" y1="752.6" x2="108.6" y2="764.0" stroke="#000" stroke-width="1.1" />
<line x1="119.6" y1="752.6" x2="119.6" y2="764.0" stroke="#000" stroke-width="1.1" />
<line x1="130.6" y1="752.6" x2="130.6" y2="764.0" stroke="#000" stroke-width="1.1" />
<line x1="158.0" y1="752.6" x2="158.0" y2="764.0" stroke="#000" stroke-width="1.1" />
<line x1="169.7" y1="752.6" x2="169.7" y2="764.0" stroke="#000" stroke-width="1.1" />
<line x1="181.39999999999998" y1="752.6" x2="181.39999999999998" y2="764.0" stroke="#000" stroke-width="1.1" />
<text transform="translate(92.1,761.7560000000001) scale(1,1.1)" x="0" y="0" font-size="9.6" font-family='"Liberation Mono", monospace' font-weight="normal" text-anchor="middle" fill="#000"  stroke="#000" stroke-width="0.3">1</text>
<text transform="translate(103.1,761.7560000000001) scale(1,1.1)" x="0" y="0" font-size="9.6" font-family='"Liberation Mono", monospace' font-weight="normal" text-anchor="middle" fill="#000"  stroke="#000" stroke-width="0.3">2</text>
<text transform="translate(114.1,761.7560000000001) scale(1,1.1)" x="0" y="0" font-size="9.6" font-family='"Liberation Mono", monospace' font-weight="normal" text-anchor="middle" fill="#000"  stroke="#000" stroke-width="0.3">3</text>
<text transform="translate(125.1,761.7560000000001) scale(1,1.1)" x="0" y="0" font-size="9.6" font-family='"Liberation Mono", monospace' font-weight="normal" text-anchor="middle" fill="#000"  stroke="#000" stroke-width="0.3">4</text>
<text transform="translate(163.85,761.7560000000001) scale(1,1.1)" x="0" y="0" font-size="9.6" font-family='"Liberation Mono", monospace' font-weight="normal" text-anchor="middle" fill="#000"  stroke="#000" stroke-width="0.3">5</text>
<text transform="translate(175.54999999999998,761.7560000000001) scale(1,1.1)" x="0" y="0" font-size="9.6" font-family='"Liberation Mono", monospace' font-weight="normal" text-anchor="middle" fill="#000"  stroke="#000" stroke-width="0.3">6</text>
<text transform="translate(187.24999999999997,761.7560000000001) scale(1,1.1)" x="0" y="0" font-size="9.6" font-family='"Liberation Mono", monospace' font-weight="normal" text-anchor="middle" fill="#000"  stroke="#000" stroke-width="0.3">7</text>
<path d="M133.6,762.1 L139.1,754.9 L154.0,754.9 L157.5,762.1 Z" stroke="#000" stroke-width="1.2" fill="none" />
<line x1="97.6" y1="764" x2="97.6" y2="774.4" stroke="#000" stroke-width="1.1" />
<line x1="108.6" y1="764" x2="108.6" y2="774.4" stroke="#000" stroke-width="1.1" />
<line x1="119.6" y1="764" x2="119.6" y2="774.4" stroke="#000" stroke-width="1.1" />
<line x1="130.6" y1="764" x2="130.6" y2="774.4" stroke="#000" stroke-width="1.1" />
<line x1="133.7" y1="764" x2="133.7" y2="774.4" stroke="#000" stroke-width="1.1" />
<line x1="146.2" y1="764" x2="146.2" y2="774.4" stroke="#000" stroke-width="1.1" />
<line x1="158.0" y1="764" x2="158.0" y2="774.4" stroke="#000" stroke-width="1.1" />
<line x1="169.7" y1="764" x2="169.7" y2="774.4" stroke="#000" stroke-width="1.1" />
<line x1="181.39999999999998" y1="764" x2="181.39999999999998" y2="774.4" stroke="#000" stroke-width="1.1" />
<text transform="translate(92.1,772.44) scale(1,1.1)" x="0" y="0" font-size="9" font-family='"Liberation Mono", monospace' font-weight="normal" text-anchor="middle" fill="#000"  stroke="#000" stroke-width="0.3">8</text>
<text transform="translate(103.1,772.44) scale(1,1.1)" x="0" y="0" font-size="9" font-family='"Liberation Mono", monospace' font-weight="normal" text-anchor="middle" fill="#000"  stroke="#000" stroke-width="0.3">9</text>
<text transform="translate(114.1,772.44) scale(1,1.1)" x="0" y="0" font-size="9" font-family='"Liberation Mono", monospace' font-weight="normal" text-anchor="middle" fill="#000" textLength="9.8" lengthAdjust="spacingAndGlyphs"  stroke="#000" stroke-width="0.3">10</text>
<text transform="translate(125.1,772.44) scale(1,1.1)" x="0" y="0" font-size="9" font-family='"Liberation Mono", monospace' font-weight="normal" text-anchor="middle" fill="#000" textLength="9.8" lengthAdjust="spacingAndGlyphs"  stroke="#000" stroke-width="0.3">11</text>
<text transform="translate(139.95,772.44) scale(1,1.1)" x="0" y="0" font-size="9" font-family='"Liberation Mono", monospace' font-weight="normal" text-anchor="middle" fill="#000"  stroke="#000" stroke-width="0.3">12</text>
<text transform="translate(152.1,772.44) scale(1,1.1)" x="0" y="0" font-size="9" font-family='"Liberation Mono", monospace' font-weight="normal" text-anchor="middle" fill="#000" textLength="10.600000000000001" lengthAdjust="spacingAndGlyphs"  stroke="#000" stroke-width="0.3">13</text>
<text transform="translate(163.85,772.44) scale(1,1.1)" x="0" y="0" font-size="9" font-family='"Liberation Mono", monospace' font-weight="normal" text-anchor="middle" fill="#000" textLength="10.5" lengthAdjust="spacingAndGlyphs"  stroke="#000" stroke-width="0.3">14</text>
<text transform="translate(175.54999999999998,772.44) scale(1,1.1)" x="0" y="0" font-size="9" font-family='"Liberation Mono", monospace' font-weight="normal" text-anchor="middle" fill="#000" textLength="10.5" lengthAdjust="spacingAndGlyphs"  stroke="#000" stroke-width="0.3">15</text>
<text transform="translate(187.24999999999997,772.44) scale(1,1.1)" x="0" y="0" font-size="9" font-family='"Liberation Mono", monospace' font-weight="normal" text-anchor="middle" fill="#000" textLength="10.5" lengthAdjust="spacingAndGlyphs"  stroke="#000" stroke-width="0.3">16</text>
<rect x="198.8" y="753.6" width="22.899999999999977" height="8.8" rx="4.4" ry="4.4" stroke="#000" stroke-width="1.2" fill="#fff"/>
<text transform="translate(210.25,761.5) scale(1,1.1)" x="0" y="0" font-size="10" font-family='"Liberation Mono", monospace' font-weight="normal" text-anchor="middle" fill="#000"  stroke="#000" stroke-width="0.3">N4</text>
<text transform="translate(209.7,772.9) scale(1,1.1)" x="0" y="0" font-size="10" font-family='"Liberation Mono", monospace' font-weight="normal" text-anchor="middle" fill="#000"  stroke="#000" stroke-width="0.2">W</text>
<rect x="240.4" y="764.3" width="23.9" height="11.6" stroke="#000" stroke-width="1.4" fill="#fff"/>
<line x1="252.4" y1="764.3" x2="252.4" y2="775.9" stroke="#000" stroke-width="1.2" />
<text transform="translate(246.4,773.5) scale(1,1.1)" x="0" y="0" font-size="9.6" font-family='"Liberation Mono", monospace' font-weight="normal" text-anchor="middle" fill="#000"  stroke="#000" stroke-width="0.15">1</text>
<text transform="translate(258.4,773.5) scale(1,1.1)" x="0" y="0" font-size="9.6" font-family='"Liberation Mono", monospace' font-weight="normal" text-anchor="middle" fill="#000"  stroke="#000" stroke-width="0.15">2</text>
<rect x="246.5" y="759" width="12.5" height="5.3" stroke="#000" stroke-width="1.1" fill="#fff"/>
<line x1="246.5" y1="759" x2="259" y2="764.3" stroke="#000" stroke-width="0.9" />
<line x1="259" y1="759" x2="246.5" y2="764.3" stroke="#000" stroke-width="0.9" />
<rect x="267" y="754.4" width="22" height="8.8" rx="4.4" ry="4.4" stroke="#000" stroke-width="1.2" fill="#fff"/>
<text transform="translate(278.0,762.3) scale(1,1.1)" x="0" y="0" font-size="10" font-family='"Liberation Mono", monospace' font-weight="normal" text-anchor="middle" fill="#000"  stroke="#000" stroke-width="0.3">E9</text>
<rect x="311" y="753.4" width="53.3" height="22.5" rx="9" ry="9" stroke="#000" stroke-width="1.4" fill="#fff"/>
<line x1="311" y1="764.4" x2="364.3" y2="764.4" stroke="#000" stroke-width="1.2" />
<line x1="326.8" y1="753.4" x2="326.8" y2="775.9" stroke="#000" stroke-width="1.1" />
<line x1="337.7" y1="753.4" x2="337.7" y2="775.9" stroke="#000" stroke-width="1.1" />
<line x1="348.1" y1="753.4" x2="348.1" y2="775.9" stroke="#000" stroke-width="1.1" />
<text transform="translate(320.8,762.8) scale(1,1.1)" x="0" y="0" font-size="9.6" font-family='"Liberation Mono", monospace' font-weight="normal" text-anchor="middle" fill="#000"  stroke="#000" stroke-width="0.15">1</text>
<text transform="translate(332.2,762.8) scale(1,1.1)" x="0" y="0" font-size="9.6" font-family='"Liberation Mono", monospace' font-weight="normal" text-anchor="middle" fill="#000"  stroke="#000" stroke-width="0.15">2</text>
<text transform="translate(342.9,762.8) scale(1,1.1)" x="0" y="0" font-size="9.6" font-family='"Liberation Mono", monospace' font-weight="normal" text-anchor="middle" fill="#000"  stroke="#000" stroke-width="0.15">3</text>
<text transform="translate(354.6,762.8) scale(1,1.1)" x="0" y="0" font-size="9.6" font-family='"Liberation Mono", monospace' font-weight="normal" text-anchor="middle" fill="#000"  stroke="#000" stroke-width="0.15">4</text>
<text transform="translate(320.8,774.2) scale(1,1.1)" x="0" y="0" font-size="9.6" font-family='"Liberation Mono", monospace' font-weight="normal" text-anchor="middle" fill="#000"  stroke="#000" stroke-width="0.15">5</text>
<text transform="translate(332.2,774.2) scale(1,1.1)" x="0" y="0" font-size="9.6" font-family='"Liberation Mono", monospace' font-weight="normal" text-anchor="middle" fill="#000"  stroke="#000" stroke-width="0.15">6</text>
<text transform="translate(342.9,774.2) scale(1,1.1)" x="0" y="0" font-size="9.6" font-family='"Liberation Mono", monospace' font-weight="normal" text-anchor="middle" fill="#000"  stroke="#000" stroke-width="0.15">7</text>
<text transform="translate(354.6,774.2) scale(1,1.1)" x="0" y="0" font-size="9.6" font-family='"Liberation Mono", monospace' font-weight="normal" text-anchor="middle" fill="#000"  stroke="#000" stroke-width="0.15">8</text>
<rect x="331.9" y="745" width="12.7" height="8.4" stroke="#000" stroke-width="1.2" fill="#fff"/>
<path d="M332.5,745.5 L338.2,753 L344,745.5" stroke="#000" stroke-width="1.0" fill="none" />
<rect x="369" y="754.9" width="23" height="8.4" rx="4.2" ry="4.2" stroke="#000" stroke-width="1.2" fill="#fff"/>
<text transform="translate(380.5,762.6) scale(1,1.1)" x="0" y="0" font-size="10" font-family='"Liberation Mono", monospace' font-weight="normal" text-anchor="middle" fill="#000" textLength="19.22" lengthAdjust="spacingAndGlyphs"  stroke="#000" stroke-width="0.3">E203</text>
<text transform="translate(380.5,772) scale(1,1.1)" x="0" y="0" font-size="10" font-family='"Liberation Mono", monospace' font-weight="normal" text-anchor="middle" fill="#000"  stroke="#000" stroke-width="0.2">GY</text>
<rect x="86.8" y="798.3" width="158" height="22.6" stroke="#000" stroke-width="1.5" fill="#fff"/>
<line x1="86.8" y1="810" x2="244.8" y2="810" stroke="#000" stroke-width="1.2" />
<line x1="98.08571428571429" y1="798.3" x2="98.08571428571429" y2="810.0" stroke="#000" stroke-width="1.1" />
<line x1="109.37142857142858" y1="798.3" x2="109.37142857142858" y2="810.0" stroke="#000" stroke-width="1.1" />
<line x1="120.65714285714287" y1="798.3" x2="120.65714285714287" y2="810.0" stroke="#000" stroke-width="1.1" />
<line x1="131.94285714285715" y1="798.3" x2="131.94285714285715" y2="810.0" stroke="#000" stroke-width="1.1" />
<line x1="143.22857142857143" y1="798.3" x2="143.22857142857143" y2="810.0" stroke="#000" stroke-width="1.1" />
<line x1="188.37142857142857" y1="798.3" x2="188.37142857142857" y2="810.0" stroke="#000" stroke-width="1.1" />
<line x1="199.65714285714284" y1="798.3" x2="199.65714285714284" y2="810.0" stroke="#000" stroke-width="1.1" />
<line x1="210.94285714285712" y1="798.3" x2="210.94285714285712" y2="810.0" stroke="#000" stroke-width="1.1" />
<line x1="222.2285714285714" y1="798.3" x2="222.2285714285714" y2="810.0" stroke="#000" stroke-width="1.1" />
<line x1="233.51428571428568" y1="798.3" x2="233.51428571428568" y2="810.0" stroke="#000" stroke-width="1.1" />
<text transform="translate(92.44285714285714,807.606) scale(1,1.1)" x="0" y="0" font-size="9.6" font-family='"Liberation Mono", monospace' font-weight="normal" text-anchor="middle" fill="#000"  stroke="#000" stroke-width="0.3">1</text>
<text transform="translate(103.72857142857143,807.606) scale(1,1.1)" x="0" y="0" font-size="9.6" font-family='"Liberation Mono", monospace' font-weight="normal" text-anchor="middle" fill="#000"  stroke="#000" stroke-width="0.3">2</text>
<text transform="translate(115.01428571428572,807.606) scale(1,1.1)" x="0" y="0" font-size="9.6" font-family='"Liberation Mono", monospace' font-weight="normal" text-anchor="middle" fill="#000"  stroke="#000" stroke-width="0.3">3</text>
<text transform="translate(126.30000000000001,807.606) scale(1,1.1)" x="0" y="0" font-size="9.6" font-family='"Liberation Mono", monospace' font-weight="normal" text-anchor="middle" fill="#000"  stroke="#000" stroke-width="0.3">4</text>
<text transform="translate(137.5857142857143,807.606) scale(1,1.1)" x="0" y="0" font-size="9.6" font-family='"Liberation Mono", monospace' font-weight="normal" text-anchor="middle" fill="#000"  stroke="#000" stroke-width="0.3">5</text>
<text transform="translate(194.0142857142857,807.606) scale(1,1.1)" x="0" y="0" font-size="9.6" font-family='"Liberation Mono", monospace' font-weight="normal" text-anchor="middle" fill="#000"  stroke="#000" stroke-width="0.3">6</text>
<text transform="translate(205.29999999999998,807.606) scale(1,1.1)" x="0" y="0" font-size="9.6" font-family='"Liberation Mono", monospace' font-weight="normal" text-anchor="middle" fill="#000"  stroke="#000" stroke-width="0.3">7</text>
<text transform="translate(216.58571428571426,807.606) scale(1,1.1)" x="0" y="0" font-size="9.6" font-family='"Liberation Mono", monospace' font-weight="normal" text-anchor="middle" fill="#000"  stroke="#000" stroke-width="0.3">8</text>
<text transform="translate(227.87142857142854,807.606) scale(1,1.1)" x="0" y="0" font-size="9.6" font-family='"Liberation Mono", monospace' font-weight="normal" text-anchor="middle" fill="#000"  stroke="#000" stroke-width="0.3">9</text>
<text transform="translate(239.15714285714282,807.606) scale(1,1.1)" x="0" y="0" font-size="9.6" font-family='"Liberation Mono", monospace' font-weight="normal" text-anchor="middle" fill="#000" textLength="10.085714285714287" lengthAdjust="spacingAndGlyphs"  stroke="#000" stroke-width="0.3">10</text>
<path d="M144.72857142857143,803.8 L159.22857142857143,798.9 L171.37142857142854,798.9 L187.17142857142855,803.8 L171.37142857142854,808.9 L159.22857142857143,808.9 Z" stroke="#000" stroke-width="1.3" fill="none" />
<line x1="98.08571428571429" y1="810" x2="98.08571428571429" y2="820.9" stroke="#000" stroke-width="1.1" />
<line x1="109.37142857142858" y1="810" x2="109.37142857142858" y2="820.9" stroke="#000" stroke-width="1.1" />
<line x1="120.65714285714287" y1="810" x2="120.65714285714287" y2="820.9" stroke="#000" stroke-width="1.1" />
<line x1="131.94285714285715" y1="810" x2="131.94285714285715" y2="820.9" stroke="#000" stroke-width="1.1" />
<line x1="143.22857142857143" y1="810" x2="143.22857142857143" y2="820.9" stroke="#000" stroke-width="1.1" />
<line x1="154.5142857142857" y1="810" x2="154.5142857142857" y2="820.9" stroke="#000" stroke-width="1.1" />
<line x1="165.79999999999998" y1="810" x2="165.79999999999998" y2="820.9" stroke="#000" stroke-width="1.1" />
<line x1="177.08571428571426" y1="810" x2="177.08571428571426" y2="820.9" stroke="#000" stroke-width="1.1" />
<line x1="188.37142857142854" y1="810" x2="188.37142857142854" y2="820.9" stroke="#000" stroke-width="1.1" />
<line x1="199.65714285714282" y1="810" x2="199.65714285714282" y2="820.9" stroke="#000" stroke-width="1.1" />
<line x1="210.9428571428571" y1="810" x2="210.9428571428571" y2="820.9" stroke="#000" stroke-width="1.1" />
<line x1="222.22857142857137" y1="810" x2="222.22857142857137" y2="820.9" stroke="#000" stroke-width="1.1" />
<line x1="233.51428571428565" y1="810" x2="233.51428571428565" y2="820.9" stroke="#000" stroke-width="1.1" />
<text transform="translate(92.44285714285714,818.69) scale(1,1.1)" x="0" y="0" font-size="9" font-family='"Liberation Mono", monospace' font-weight="normal" text-anchor="middle" fill="#000" textLength="10.085714285714287" lengthAdjust="spacingAndGlyphs"  stroke="#000" stroke-width="0.3">11</text>
<text transform="translate(103.72857142857143,818.69) scale(1,1.1)" x="0" y="0" font-size="9" font-family='"Liberation Mono", monospace' font-weight="normal" text-anchor="middle" fill="#000" textLength="10.085714285714287" lengthAdjust="spacingAndGlyphs"  stroke="#000" stroke-width="0.3">12</text>
<text transform="translate(115.01428571428572,818.69) scale(1,1.1)" x="0" y="0" font-size="9" font-family='"Liberation Mono", monospace' font-weight="normal" text-anchor="middle" fill="#000" textLength="10.085714285714287" lengthAdjust="spacingAndGlyphs"  stroke="#000" stroke-width="0.3">13</text>
<text transform="translate(126.30000000000001,818.69) scale(1,1.1)" x="0" y="0" font-size="9" font-family='"Liberation Mono", monospace' font-weight="normal" text-anchor="middle" fill="#000" textLength="10.085714285714287" lengthAdjust="spacingAndGlyphs"  stroke="#000" stroke-width="0.3">14</text>
<text transform="translate(137.5857142857143,818.69) scale(1,1.1)" x="0" y="0" font-size="9" font-family='"Liberation Mono", monospace' font-weight="normal" text-anchor="middle" fill="#000" textLength="10.085714285714287" lengthAdjust="spacingAndGlyphs"  stroke="#000" stroke-width="0.3">15</text>
<text transform="translate(148.87142857142857,818.69) scale(1,1.1)" x="0" y="0" font-size="9" font-family='"Liberation Mono", monospace' font-weight="normal" text-anchor="middle" fill="#000" textLength="10.085714285714287" lengthAdjust="spacingAndGlyphs"  stroke="#000" stroke-width="0.3">16</text>
<text transform="translate(160.15714285714284,818.69) scale(1,1.1)" x="0" y="0" font-size="9" font-family='"Liberation Mono", monospace' font-weight="normal" text-anchor="middle" fill="#000" textLength="10.085714285714287" lengthAdjust="spacingAndGlyphs"  stroke="#000" stroke-width="0.3">17</text>
<text transform="translate(171.44285714285712,818.69) scale(1,1.1)" x="0" y="0" font-size="9" font-family='"Liberation Mono", monospace' font-weight="normal" text-anchor="middle" fill="#000" textLength="10.085714285714287" lengthAdjust="spacingAndGlyphs"  stroke="#000" stroke-width="0.3">18</text>
<text transform="translate(182.7285714285714,818.69) scale(1,1.1)" x="0" y="0" font-size="9" font-family='"Liberation Mono", monospace' font-weight="normal" text-anchor="middle" fill="#000" textLength="10.085714285714287" lengthAdjust="spacingAndGlyphs"  stroke="#000" stroke-width="0.3">19</text>
<text transform="translate(194.01428571428568,818.69) scale(1,1.1)" x="0" y="0" font-size="9" font-family='"Liberation Mono", monospace' font-weight="normal" text-anchor="middle" fill="#000" textLength="10.085714285714287" lengthAdjust="spacingAndGlyphs"  stroke="#000" stroke-width="0.3">20</text>
<text transform="translate(205.29999999999995,818.69) scale(1,1.1)" x="0" y="0" font-size="9" font-family='"Liberation Mono", monospace' font-weight="normal" text-anchor="middle" fill="#000" textLength="10.085714285714287" lengthAdjust="spacingAndGlyphs"  stroke="#000" stroke-width="0.3">21</text>
<text transform="translate(216.58571428571423,818.69) scale(1,1.1)" x="0" y="0" font-size="9" font-family='"Liberation Mono", monospace' font-weight="normal" text-anchor="middle" fill="#000" textLength="10.085714285714287" lengthAdjust="spacingAndGlyphs"  stroke="#000" stroke-width="0.3">22</text>
<text transform="translate(227.8714285714285,818.69) scale(1,1.1)" x="0" y="0" font-size="9" font-family='"Liberation Mono", monospace' font-weight="normal" text-anchor="middle" fill="#000" textLength="10.085714285714287" lengthAdjust="spacingAndGlyphs"  stroke="#000" stroke-width="0.3">23</text>
<text transform="translate(239.1571428571428,818.69) scale(1,1.1)" x="0" y="0" font-size="9" font-family='"Liberation Mono", monospace' font-weight="normal" text-anchor="middle" fill="#000" textLength="10.085714285714287" lengthAdjust="spacingAndGlyphs"  stroke="#000" stroke-width="0.3">24</text>
<rect x="250.3" y="799.0999999999999" width="24.5" height="9.4" rx="4.7" ry="4.7" stroke="#000" stroke-width="1.2" fill="#fff"/>
<text transform="translate(262.55,807.3) scale(1,1.1)" x="0" y="0" font-size="10" font-family='"Liberation Mono", monospace' font-weight="normal" text-anchor="middle" fill="#000"  stroke="#000" stroke-width="0.3">F54</text>
<text transform="translate(262.6,817.3) scale(1,1.1)" x="0" y="0" font-size="10" font-family='"Liberation Mono", monospace' font-weight="normal" text-anchor="middle" fill="#000"  stroke="#000" stroke-width="0.2">W</text>
<rect x="285.9" y="810.3" width="55.6" height="10.7" rx="5.3" ry="5.3" stroke="#000" stroke-width="1.4" fill="#fff"/>
<line x1="296.6" y1="810.3" x2="296.6" y2="821" stroke="#000" stroke-width="1.1" />
<line x1="307.8" y1="810.3" x2="307.8" y2="821" stroke="#000" stroke-width="1.1" />
<line x1="319.9" y1="810.3" x2="319.9" y2="821" stroke="#000" stroke-width="1.1" />
<line x1="331" y1="810.3" x2="331" y2="821" stroke="#000" stroke-width="1.1" />
<text transform="translate(291.25,819.2) scale(1,1.1)" x="0" y="0" font-size="9.6" font-family='"Liberation Mono", monospace' font-weight="normal" text-anchor="middle" fill="#000"  stroke="#000" stroke-width="0.15">1</text>
<text transform="translate(302.20000000000005,819.2) scale(1,1.1)" x="0" y="0" font-size="9.6" font-family='"Liberation Mono", monospace' font-weight="normal" text-anchor="middle" fill="#000"  stroke="#000" stroke-width="0.15">2</text>
<text transform="translate(313.85,819.2) scale(1,1.1)" x="0" y="0" font-size="9.6" font-family='"Liberation Mono", monospace' font-weight="normal" text-anchor="middle" fill="#000"  stroke="#000" stroke-width="0.15">3</text>
<text transform="translate(325.45,819.2) scale(1,1.1)" x="0" y="0" font-size="9.6" font-family='"Liberation Mono", monospace' font-weight="normal" text-anchor="middle" fill="#000"  stroke="#000" stroke-width="0.15">4</text>
<text transform="translate(336.25,819.2) scale(1,1.1)" x="0" y="0" font-size="9.6" font-family='"Liberation Mono", monospace' font-weight="normal" text-anchor="middle" fill="#000"  stroke="#000" stroke-width="0.15">5</text>
<rect x="307.8" y="797.2" width="12.1" height="13.1" stroke="#000" stroke-width="1.3" fill="#fff"/>
<line x1="307.8" y1="797.2" x2="319.9" y2="810.3" stroke="#000" stroke-width="1.0" />
<line x1="319.9" y1="797.2" x2="307.8" y2="810.3" stroke="#000" stroke-width="1.0" />
<rect x="344.7" y="800.5" width="22.900000000000034" height="8.6" rx="4.3" ry="4.3" stroke="#000" stroke-width="1.2" fill="#fff"/>
<text transform="translate(356.15,808.3) scale(1,1.1)" x="0" y="0" font-size="10" font-family='"Liberation Mono", monospace' font-weight="normal" text-anchor="middle" fill="#000"  stroke="#000" stroke-width="0.3">C3</text>
<text transform="translate(355.9,818.8) scale(1,1.1)" x="0" y="0" font-size="10" font-family='"Liberation Mono", monospace' font-weight="normal" text-anchor="middle" fill="#000"  stroke="#000" stroke-width="0.2">GY</text>
<rect x="381.4" y="799.2" width="105.3" height="21.8" stroke="#000" stroke-width="1.5" fill="#fff"/>
<line x1="381.4" y1="809.6" x2="486.7" y2="809.6" stroke="#000" stroke-width="1.2" />
<line x1="393.0285714285714" y1="799.2" x2="393.0285714285714" y2="809.6" stroke="#000" stroke-width="1.1" />
<line x1="404.65714285714284" y1="799.2" x2="404.65714285714284" y2="809.6" stroke="#000" stroke-width="1.1" />
<line x1="416.2857142857143" y1="799.2" x2="416.2857142857143" y2="809.6" stroke="#000" stroke-width="1.1" />
<line x1="440.18571428571425" y1="799.2" x2="440.18571428571425" y2="809.6" stroke="#000" stroke-width="1.1" />
<line x1="451.8142857142857" y1="799.2" x2="451.8142857142857" y2="809.6" stroke="#000" stroke-width="1.1" />
<line x1="463.4428571428571" y1="799.2" x2="463.4428571428571" y2="809.6" stroke="#000" stroke-width="1.1" />
<line x1="475.07142857142856" y1="799.2" x2="475.07142857142856" y2="809.6" stroke="#000" stroke-width="1.1" />
<text transform="translate(387.21428571428567,807.8560000000001) scale(1,1.1)" x="0" y="0" font-size="9.6" font-family='"Liberation Mono", monospace' font-weight="normal" text-anchor="middle" fill="#000"  stroke="#000" stroke-width="0.3">1</text>
<text transform="translate(398.8428571428571,807.8560000000001) scale(1,1.1)" x="0" y="0" font-size="9.6" font-family='"Liberation Mono", monospace' font-weight="normal" text-anchor="middle" fill="#000"  stroke="#000" stroke-width="0.3">2</text>
<text transform="translate(410.47142857142853,807.8560000000001) scale(1,1.1)" x="0" y="0" font-size="9.6" font-family='"Liberation Mono", monospace' font-weight="normal" text-anchor="middle" fill="#000"  stroke="#000" stroke-width="0.3">3</text>
<text transform="translate(445.99999999999994,807.8560000000001) scale(1,1.1)" x="0" y="0" font-size="9.6" font-family='"Liberation Mono", monospace' font-weight="normal" text-anchor="middle" fill="#000"  stroke="#000" stroke-width="0.3">4</text>
<text transform="translate(457.6285714285714,807.8560000000001) scale(1,1.1)" x="0" y="0" font-size="9.6" font-family='"Liberation Mono", monospace' font-weight="normal" text-anchor="middle" fill="#000"  stroke="#000" stroke-width="0.3">5</text>
<text transform="translate(469.2571428571428,807.8560000000001) scale(1,1.1)" x="0" y="0" font-size="9.6" font-family='"Liberation Mono", monospace' font-weight="normal" text-anchor="middle" fill="#000"  stroke="#000" stroke-width="0.3">6</text>
<text transform="translate(480.88571428571424,807.8560000000001) scale(1,1.1)" x="0" y="0" font-size="9.6" font-family='"Liberation Mono", monospace' font-weight="normal" text-anchor="middle" fill="#000"  stroke="#000" stroke-width="0.3">7</text>
<rect x="418.7857142857143" y="801.8000000000001" width="18.9" height="5.4" stroke="#000" stroke-width="1.1" fill="none"/>
<line x1="393.09999999999997" y1="809.6" x2="393.09999999999997" y2="821.0" stroke="#000" stroke-width="1.1" />
<line x1="404.79999999999995" y1="809.6" x2="404.79999999999995" y2="821.0" stroke="#000" stroke-width="1.1" />
<line x1="416.49999999999994" y1="809.6" x2="416.49999999999994" y2="821.0" stroke="#000" stroke-width="1.1" />
<line x1="428.19999999999993" y1="809.6" x2="428.19999999999993" y2="821.0" stroke="#000" stroke-width="1.1" />
<line x1="439.8999999999999" y1="809.6" x2="439.8999999999999" y2="821.0" stroke="#000" stroke-width="1.1" />
<line x1="451.5999999999999" y1="809.6" x2="451.5999999999999" y2="821.0" stroke="#000" stroke-width="1.1" />
<line x1="463.2999999999999" y1="809.6" x2="463.2999999999999" y2="821.0" stroke="#000" stroke-width="1.1" />
<line x1="474.9999999999999" y1="809.6" x2="474.9999999999999" y2="821.0" stroke="#000" stroke-width="1.1" />
<text transform="translate(387.25,818.5400000000001) scale(1,1.1)" x="0" y="0" font-size="9" font-family='"Liberation Mono", monospace' font-weight="normal" text-anchor="middle" fill="#000"  stroke="#000" stroke-width="0.3">8</text>
<text transform="translate(398.95,818.5400000000001) scale(1,1.1)" x="0" y="0" font-size="9" font-family='"Liberation Mono", monospace' font-weight="normal" text-anchor="middle" fill="#000"  stroke="#000" stroke-width="0.3">9</text>
<text transform="translate(410.65,818.5400000000001) scale(1,1.1)" x="0" y="0" font-size="9" font-family='"Liberation Mono", monospace' font-weight="normal" text-anchor="middle" fill="#000" textLength="10.5" lengthAdjust="spacingAndGlyphs"  stroke="#000" stroke-width="0.3">10</text>
<text transform="translate(422.34999999999997,818.5400000000001) scale(1,1.1)" x="0" y="0" font-size="9" font-family='"Liberation Mono", monospace' font-weight="normal" text-anchor="middle" fill="#000" textLength="10.5" lengthAdjust="spacingAndGlyphs"  stroke="#000" stroke-width="0.3">11</text>
<text transform="translate(434.04999999999995,818.5400000000001) scale(1,1.1)" x="0" y="0" font-size="9" font-family='"Liberation Mono", monospace' font-weight="normal" text-anchor="middle" fill="#000" textLength="10.5" lengthAdjust="spacingAndGlyphs"  stroke="#000" stroke-width="0.3">12</text>
<text transform="translate(445.74999999999994,818.5400000000001) scale(1,1.1)" x="0" y="0" font-size="9" font-family='"Liberation Mono", monospace' font-weight="normal" text-anchor="middle" fill="#000" textLength="10.5" lengthAdjust="spacingAndGlyphs"  stroke="#000" stroke-width="0.3">13</text>
<text transform="translate(457.44999999999993,818.5400000000001) scale(1,1.1)" x="0" y="0" font-size="9" font-family='"Liberation Mono", monospace' font-weight="normal" text-anchor="middle" fill="#000" textLength="10.5" lengthAdjust="spacingAndGlyphs"  stroke="#000" stroke-width="0.3">14</text>
<text transform="translate(469.1499999999999,818.5400000000001) scale(1,1.1)" x="0" y="0" font-size="9" font-family='"Liberation Mono", monospace' font-weight="normal" text-anchor="middle" fill="#000" textLength="10.5" lengthAdjust="spacingAndGlyphs"  stroke="#000" stroke-width="0.3">15</text>
<text transform="translate(480.8499999999999,818.5400000000001) scale(1,1.1)" x="0" y="0" font-size="9" font-family='"Liberation Mono", monospace' font-weight="normal" text-anchor="middle" fill="#000" textLength="10.5" lengthAdjust="spacingAndGlyphs"  stroke="#000" stroke-width="0.3">16</text>
<rect x="489.3" y="799.9" width="22.900000000000034" height="9" rx="4.5" ry="4.5" stroke="#000" stroke-width="1.2" fill="#fff"/>
<text transform="translate(500.75,807.9) scale(1,1.1)" x="0" y="0" font-size="10" font-family='"Liberation Mono", monospace' font-weight="normal" text-anchor="middle" fill="#000"  stroke="#000" stroke-width="0.3">C9</text>
<text transform="translate(500.7,817.8) scale(1,1.1)" x="0" y="0" font-size="10" font-family='"Liberation Mono", monospace' font-weight="normal" text-anchor="middle" fill="#000"  stroke="#000" stroke-width="0.2">W</text>
<text transform="translate(535.7,696.7) scale(1,1.1)" x="0" y="0" font-size="9.6" font-family='"Liberation Mono", monospace' font-weight="normal" text-anchor="start" fill="#000" textLength="101.3" lengthAdjust="spacingAndGlyphs"  stroke="#000" stroke-width="0.2">Refer to last page</text>
<text transform="translate(537.6,705.6) scale(1,1.1)" x="0" y="0" font-size="9.6" font-family='"Liberation Mono", monospace' font-weight="normal" text-anchor="start" fill="#000" textLength="90" lengthAdjust="spacingAndGlyphs"  stroke="#000" stroke-width="0.2">(Foldout page).</text>
<rect x="551.6" y="720.2" width="23.299999999999955" height="9.6" rx="4.8" ry="4.8" stroke="#000" stroke-width="1.2" fill="#fff"/>
<text transform="translate(563.25,728.5) scale(1,1.1)" x="0" y="0" font-size="10" font-family='"Liberation Mono", monospace' font-weight="normal" text-anchor="middle" fill="#000"  stroke="#000" stroke-width="0.3">M5</text>
<text transform="translate(578.5,735) scale(1,1.1)" x="0" y="0" font-size="10.4" font-family='"Liberation Mono", monospace' font-weight="normal" text-anchor="start" fill="#000"  stroke="#000" stroke-width="0.2">,</text>
<rect x="585.4" y="720.2" width="23.600000000000023" height="9.6" rx="4.8" ry="4.8" stroke="#000" stroke-width="1.2" fill="#fff"/>
<text transform="translate(597.2,728.5) scale(1,1.1)" x="0" y="0" font-size="10" font-family='"Liberation Mono", monospace' font-weight="normal" text-anchor="middle" fill="#000" textLength="19.280000000000022" lengthAdjust="spacingAndGlyphs"  stroke="#000" stroke-width="0.3">E101</text>
<rect x="551.6" y="741.2" width="23.299999999999955" height="9.6" rx="4.8" ry="4.8" stroke="#000" stroke-width="1.2" fill="#fff"/>
<text transform="translate(563.25,749.5) scale(1,1.1)" x="0" y="0" font-size="10" font-family='"Liberation Mono", monospace' font-weight="normal" text-anchor="middle" fill="#000"  stroke="#000" stroke-width="0.3">M32</text>
<text transform="translate(578.5,756) scale(1,1.1)" x="0" y="0" font-size="10.4" font-family='"Liberation Mono", monospace' font-weight="normal" text-anchor="start" fill="#000"  stroke="#000" stroke-width="0.2">,</text>
<rect x="585.4" y="741.2" width="23.600000000000023" height="9.6" rx="4.8" ry="4.8" stroke="#000" stroke-width="1.2" fill="#fff"/>
<text transform="translate(597.2,749.5) scale(1,1.1)" x="0" y="0" font-size="10" font-family='"Liberation Mono", monospace' font-weight="normal" text-anchor="middle" fill="#000"  stroke="#000" stroke-width="0.3">F51</text>
</svg></body></html>
